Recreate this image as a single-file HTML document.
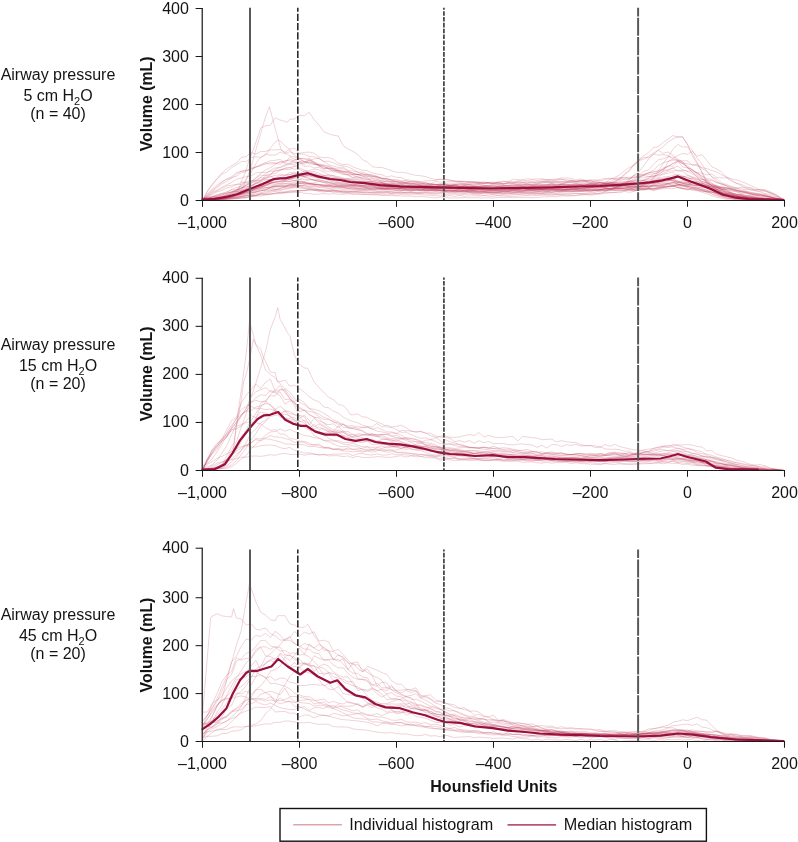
<!DOCTYPE html>
<html><head><meta charset="utf-8"><title>Figure</title>
<style>
html,body{margin:0;padding:0;background:#fff}
svg{display:block}
text{font-family:"Liberation Sans",sans-serif;font-size:16px;fill:#151314}
.b{font-weight:bold}
.ax{fill:none;stroke:#1a1a1a;stroke-width:1.05}
.ay{fill:none;stroke:#2e2e2e;stroke-width:1.35}
.v{stroke:#5a5a5a;stroke-width:2}
.v2{stroke:#2b2b2b;stroke-width:1.6}
.v3{stroke:#4a4a4a;stroke-width:1.8}
.ind polyline{fill:none;stroke:#b8294a;stroke-width:0.5;stroke-opacity:0.42;stroke-linejoin:round}
.med{fill:none;stroke:#990f40;stroke-width:2.2;stroke-linejoin:round;stroke-linecap:round}
</style></head><body>
<svg width="798" height="842" viewBox="0 0 798 842">
<rect width="798" height="842" fill="#fff"/>
<g class="ind"><polyline points="202.5,200.3 207.3,198.1 212.2,196.3 217.1,194.7 221.9,193.4 226.8,191.8 231.6,190.1 236.4,189.7 241.3,189.0 246.2,186.7 251.0,186.3 255.8,185.7 260.7,185.9 265.6,184.7 270.4,183.9 275.2,184.4 280.1,183.2 284.9,183.7 289.8,182.9 294.6,183.4 299.5,183.2 304.4,183.8 309.2,183.8 314.1,184.0 318.9,184.9 323.8,184.5 328.6,184.8 333.4,185.0 338.3,185.8 343.1,186.7 348.0,186.5 352.9,186.3 357.7,187.2 362.5,186.7 367.4,187.4 372.2,187.3 377.1,188.0 381.9,188.4 386.8,188.5 391.6,188.6 396.5,188.9 401.4,188.7 406.2,188.9 411.0,189.7 415.9,189.8 420.8,189.4 425.6,189.8 430.4,190.2 435.3,190.5 440.1,189.7 445.0,190.3 449.9,190.1 454.7,190.6 459.6,190.0 464.4,190.4 469.2,190.7 474.1,190.3 478.9,189.5 483.8,190.0 488.6,189.8 493.5,190.5 498.3,190.3 503.2,190.0 508.1,189.9 512.9,189.8 517.8,189.7 522.6,189.1 527.5,189.6 532.3,189.8 537.1,189.4 542.0,188.6 546.8,189.7 551.7,189.9 556.5,190.0 561.4,190.4 566.2,189.8 571.1,190.1 576.0,190.1 580.8,190.2 585.6,189.9 590.5,189.7 595.3,189.7 600.2,189.9 605.0,189.0 609.9,188.3 614.8,188.5 619.6,188.2 624.5,188.1 629.3,186.8 634.1,186.7 639.0,186.1 643.8,185.4 648.7,182.7 653.5,183.7 658.4,182.4 663.2,180.4 668.1,180.0 673.0,181.0 677.8,184.1 682.6,185.6 687.5,186.8 692.3,184.1 697.2,185.6 702.0,185.9 706.9,188.1 711.8,189.3 716.6,189.6 721.4,190.8 726.3,192.2 731.1,193.2 736.0,194.3 740.9,194.8 745.7,196.0 750.5,196.0 755.4,196.9 760.2,197.3 765.1,198.0 769.9,198.7 774.8,199.4 779.6,199.8 784.5,200.5"/>
<polyline points="202.5,200.4 207.3,200.3 212.2,200.1 217.1,198.8 221.9,198.8 226.8,198.6 231.6,197.8 236.4,194.7 241.3,190.7 246.2,179.7 251.0,167.8 255.8,149.9 260.7,133.4 265.6,116.6 269.4,106.8 275.2,128.4 281.1,149.7 284.9,152.8 289.8,155.8 294.6,157.2 299.5,158.5 304.4,161.6 309.2,163.8 314.1,164.4 318.9,165.3 323.8,168.6 328.6,168.4 333.4,169.0 338.3,170.9 343.1,172.3 348.0,172.0 352.9,172.6 357.7,174.7 362.5,173.8 367.4,174.7 372.2,176.8 377.1,176.1 381.9,178.6 386.8,178.6 391.6,180.0 396.5,180.2 401.4,181.5 406.2,181.0 411.0,181.6 415.9,182.1 420.8,183.2 425.6,182.8 430.4,183.9 435.3,184.0 440.1,184.9 445.0,184.9 449.9,185.3 454.7,185.2 459.6,186.3 464.4,186.0 469.2,186.1 474.1,186.5 478.9,186.8 483.8,186.8 488.6,187.3 493.5,187.4 498.3,186.8 503.2,186.9 508.1,186.6 512.9,187.1 517.8,186.5 522.6,186.6 527.5,187.1 532.3,186.8 537.1,186.5 542.0,186.4 546.8,186.5 551.7,185.3 556.5,186.4 561.4,185.0 566.2,185.7 571.1,185.2 576.0,185.6 580.8,185.1 585.6,184.7 590.5,184.3 595.3,183.6 600.2,183.6 605.0,183.8 609.9,183.2 614.8,182.8 619.6,182.8 624.5,182.9 629.3,181.5 634.1,182.2 639.0,181.0 643.8,180.4 648.7,179.8 653.5,178.7 658.4,178.2 663.2,177.0 668.1,176.6 673.0,175.5 677.8,174.3 682.6,176.3 687.5,177.3 692.3,179.8 697.2,181.7 702.0,183.7 706.9,185.0 711.8,187.2 716.6,189.0 721.4,190.4 726.3,192.5 731.1,194.1 736.0,195.8 740.9,196.2 745.7,196.7 750.5,197.0 755.4,197.3 760.2,198.3 765.1,199.0 769.9,199.1 774.8,199.9 779.6,200.2 784.5,200.5"/>
<polyline points="202.5,200.5 207.3,199.9 212.2,199.6 217.1,199.1 221.9,198.4 226.8,197.9 231.6,196.6 236.4,194.7 241.3,182.2 246.2,170.1 248.6,161.3 251.0,155.5 255.8,142.7 260.7,127.9 265.6,125.8 270.4,125.2 275.2,117.8 280.1,120.0 284.9,121.5 287.4,122.2 289.8,119.2 294.6,119.0 299.5,115.5 304.4,115.7 309.2,112.3 314.1,119.7 318.9,125.0 323.8,131.6 328.6,133.8 333.4,135.3 338.3,136.0 343.1,145.5 348.0,149.0 352.9,151.3 357.7,154.3 362.5,159.6 367.4,162.1 372.2,166.7 377.1,167.4 381.9,167.5 386.8,168.9 391.6,170.8 396.5,172.3 401.4,172.3 406.2,172.9 411.0,174.3 415.9,175.3 420.8,175.8 425.6,176.6 430.4,178.2 435.3,179.6 440.1,179.3 445.0,179.7 449.9,180.4 454.7,180.8 459.6,181.6 464.4,181.5 469.2,182.1 474.1,182.5 478.9,183.0 483.8,183.0 488.6,182.3 493.5,183.7 498.3,183.0 503.2,183.4 508.1,182.9 512.9,182.7 517.8,182.8 522.6,182.5 527.5,182.6 532.3,182.6 537.1,182.0 542.0,181.9 546.8,181.5 551.7,182.0 556.5,181.5 561.4,181.6 566.2,181.9 571.1,180.8 576.0,181.0 580.8,180.4 585.6,180.3 590.5,180.6 595.3,180.8 600.2,179.5 605.0,178.4 609.9,179.0 614.8,178.4 619.6,177.5 624.5,177.9 629.3,177.4 634.1,177.3 639.0,176.2 643.8,175.3 648.7,174.4 653.5,173.8 658.4,172.3 663.2,170.0 668.1,169.8 673.0,168.1 677.8,166.1 682.6,169.7 687.5,171.5 692.3,173.9 697.2,176.7 702.0,179.3 706.9,180.9 711.8,183.7 716.6,185.9 721.4,187.8 726.3,189.8 731.1,192.6 736.0,194.3 740.9,194.6 745.7,196.1 750.5,196.4 755.4,197.3 760.2,197.6 765.1,198.3 769.9,198.8 774.8,199.1 779.6,199.7 784.5,200.5"/>
<polyline points="202.5,199.4 207.3,199.3 212.2,199.1 217.1,198.2 221.9,198.1 226.8,197.2 231.6,196.4 236.4,195.7 241.3,194.5 246.2,194.1 251.0,192.6 255.8,192.5 260.7,191.0 265.6,190.0 270.4,189.8 275.2,189.5 280.1,189.7 284.9,188.5 289.8,187.7 294.6,187.0 299.5,186.8 304.4,188.4 309.2,189.4 314.1,189.9 318.9,189.8 323.8,191.0 328.6,191.0 333.4,191.2 338.3,192.5 343.1,193.1 348.0,192.9 352.9,193.8 357.7,194.1 362.5,194.1 367.4,194.5 372.2,194.9 377.1,195.0 381.9,195.5 386.8,195.4 391.6,195.5 396.5,195.9 401.4,196.0 406.2,196.2 411.0,196.1 415.9,196.7 420.8,196.6 425.6,196.9 430.4,197.3 435.3,197.9 440.1,197.2 445.0,197.1 449.9,198.0 454.7,197.9 459.6,197.8 464.4,197.6 469.2,197.9 474.1,197.6 478.9,198.0 483.8,197.9 488.6,197.8 493.5,198.1 498.3,197.4 503.2,197.6 508.1,197.3 512.9,197.8 517.8,197.4 522.6,197.7 527.5,197.4 532.3,197.8 537.1,197.5 542.0,196.9 546.8,196.9 551.7,196.6 556.5,196.7 561.4,195.9 566.2,196.1 571.1,195.8 576.0,195.7 580.8,195.2 585.6,194.7 590.5,194.5 595.3,193.8 600.2,193.1 605.0,191.6 609.9,190.3 614.8,188.5 619.6,185.0 624.5,183.4 629.3,179.9 634.1,175.0 639.0,172.0 643.8,165.5 648.7,158.7 653.5,154.6 658.4,150.0 663.2,146.7 668.1,141.9 673.0,139.0 677.8,136.4 682.6,136.7 687.5,144.4 692.3,155.6 697.2,164.2 702.0,172.0 706.9,180.8 711.8,185.7 716.6,189.7 721.4,192.6 726.3,194.7 731.1,196.5 736.0,197.1 740.9,198.2 745.7,198.5 750.5,198.3 755.4,199.2 760.2,199.0 765.1,199.6 769.9,199.6 774.8,200.0 779.6,200.2 784.5,200.5"/>
<polyline points="202.5,200.2 207.3,198.7 212.2,196.9 217.1,195.8 221.9,194.0 226.8,193.2 231.6,192.0 236.4,191.4 241.3,190.3 246.2,189.4 251.0,188.9 255.8,188.3 260.7,186.6 265.6,187.6 270.4,187.1 275.2,186.2 280.1,186.0 284.9,185.4 289.8,185.8 294.6,185.2 299.5,185.8 304.4,185.9 309.2,186.8 314.1,186.6 318.9,187.4 323.8,187.2 328.6,188.2 333.4,188.5 338.3,188.3 343.1,189.0 348.0,188.5 352.9,189.6 357.7,189.4 362.5,189.5 367.4,188.9 372.2,190.0 377.1,189.5 381.9,189.1 386.8,189.2 391.6,188.1 396.5,188.3 401.4,188.8 406.2,188.1 411.0,187.0 415.9,187.2 420.8,186.7 425.6,186.5 430.4,186.7 435.3,186.6 440.1,185.1 445.0,184.8 449.9,184.8 454.7,185.0 459.6,183.9 464.4,183.7 469.2,183.5 474.1,183.4 478.9,182.8 483.8,183.6 488.6,183.0 493.5,182.7 498.3,183.0 503.2,183.7 508.1,182.6 512.9,183.4 517.8,181.0 522.6,181.9 527.5,181.1 532.3,182.0 537.1,181.8 542.0,181.0 546.8,180.6 551.7,180.8 556.5,180.2 561.4,179.6 566.2,179.6 571.1,180.3 576.0,181.4 580.8,181.2 585.6,181.7 590.5,182.0 595.3,182.1 600.2,182.7 605.0,183.9 609.9,184.3 614.8,184.6 619.6,185.5 624.5,185.9 629.3,185.6 634.1,186.1 639.0,186.4 643.8,186.4 648.7,185.5 653.5,185.2 658.4,183.9 663.2,183.7 668.1,181.2 673.0,179.9 677.8,181.8 682.6,180.4 687.5,182.7 692.3,182.5 697.2,184.0 702.0,185.3 706.9,185.7 711.8,187.8 716.6,189.5 721.4,190.7 726.3,193.0 731.1,194.2 736.0,195.8 740.9,196.6 745.7,197.6 750.5,198.0 755.4,198.5 760.2,199.0 765.1,199.2 769.9,199.2 774.8,199.9 779.6,200.1 784.5,200.5"/>
<polyline points="202.5,200.5 207.3,199.7 212.2,199.0 217.1,197.9 221.9,197.5 226.8,197.2 231.6,193.0 236.4,189.7 241.3,185.6 246.2,179.2 251.0,172.8 255.8,163.7 260.7,157.4 265.6,155.2 270.4,148.1 275.2,142.1 277.7,140.2 280.1,141.0 284.9,145.6 289.8,149.8 294.6,155.7 299.5,158.3 304.4,159.0 309.2,160.6 314.1,164.0 318.9,165.0 323.8,166.7 328.6,169.1 333.4,170.4 338.3,170.2 343.1,171.9 348.0,172.4 352.9,174.7 357.7,174.5 362.5,175.6 367.4,174.9 372.2,176.4 377.1,177.5 381.9,177.9 386.8,178.7 391.6,179.6 396.5,179.9 401.4,180.8 406.2,180.5 411.0,182.4 415.9,182.0 420.8,183.3 425.6,184.3 430.4,184.2 435.3,185.0 440.1,186.1 445.0,185.9 449.9,185.9 454.7,186.7 459.6,186.6 464.4,187.2 469.2,187.2 474.1,187.1 478.9,187.4 483.8,187.6 488.6,188.3 493.5,188.3 498.3,188.4 503.2,188.2 508.1,188.2 512.9,187.8 517.8,187.8 522.6,186.8 527.5,187.7 532.3,187.9 537.1,187.6 542.0,187.5 546.8,187.7 551.7,187.4 556.5,187.2 561.4,186.8 566.2,186.6 571.1,186.4 576.0,186.9 580.8,186.3 585.6,186.1 590.5,185.7 595.3,185.4 600.2,186.2 605.0,185.5 609.9,185.7 614.8,184.7 619.6,184.3 624.5,183.2 629.3,183.9 634.1,182.6 639.0,182.7 643.8,182.4 648.7,181.5 653.5,180.1 658.4,179.7 663.2,179.1 668.1,178.2 673.0,178.0 677.8,176.7 682.6,178.5 687.5,179.9 692.3,182.4 697.2,184.5 702.0,186.1 706.9,187.7 711.8,188.8 716.6,190.5 721.4,192.4 726.3,194.2 731.1,195.0 736.0,196.6 740.9,197.1 745.7,197.3 750.5,197.5 755.4,198.5 760.2,198.3 765.1,199.2 769.9,199.2 774.8,199.4 779.6,200.5 784.5,200.5"/>
<polyline points="202.5,200.2 207.3,199.6 212.2,199.5 217.1,199.2 221.9,198.6 226.8,198.0 231.6,196.4 236.4,196.0 241.3,194.3 246.2,192.7 251.0,191.0 255.8,189.0 260.7,187.1 265.6,185.7 270.4,183.5 275.2,182.1 280.1,181.5 284.9,181.7 289.8,181.4 294.6,180.6 299.5,179.2 304.4,177.5 309.2,177.9 314.1,180.4 318.9,180.9 323.8,182.0 328.6,182.5 333.4,183.6 338.3,184.2 343.1,184.5 348.0,184.7 352.9,185.6 357.7,186.4 362.5,186.2 367.4,186.6 372.2,185.5 377.1,186.7 381.9,187.5 386.8,186.3 391.6,186.7 396.5,186.7 401.4,186.6 406.2,186.6 411.0,186.4 415.9,186.9 420.8,185.9 425.6,186.1 430.4,186.3 435.3,186.4 440.1,184.9 445.0,184.9 449.9,185.8 454.7,184.3 459.6,184.5 464.4,184.9 469.2,184.9 474.1,184.7 478.9,184.0 483.8,184.9 488.6,185.9 493.5,183.8 498.3,184.4 503.2,185.6 508.1,185.0 512.9,185.3 517.8,184.7 522.6,185.0 527.5,184.7 532.3,185.2 537.1,185.7 542.0,184.5 546.8,184.9 551.7,184.3 556.5,184.7 561.4,184.6 566.2,184.8 571.1,185.0 576.0,183.8 580.8,184.5 585.6,185.4 590.5,185.0 595.3,184.9 600.2,185.8 605.0,184.6 609.9,185.7 614.8,186.9 619.6,185.9 624.5,185.9 629.3,186.2 634.1,186.4 639.0,185.9 643.8,185.8 648.7,186.2 653.5,185.5 658.4,185.6 663.2,184.1 668.1,183.9 673.0,182.4 677.8,184.2 682.6,185.9 687.5,184.1 692.3,185.1 697.2,185.3 702.0,185.7 706.9,186.4 711.8,186.9 716.6,186.5 721.4,187.6 726.3,188.0 731.1,189.7 736.0,189.8 740.9,191.2 745.7,191.0 750.5,192.3 755.4,193.0 760.2,193.9 765.1,194.3 769.9,195.7 774.8,197.8 779.6,199.0 784.5,200.5"/>
<polyline points="202.5,199.7 207.3,199.8 212.2,199.8 217.1,199.8 221.9,199.8 226.8,199.2 231.6,198.8 236.4,198.8 241.3,197.9 246.2,197.4 251.0,195.9 255.8,195.1 260.7,193.5 265.6,192.6 270.4,191.0 275.2,190.7 280.1,188.3 284.9,186.9 289.8,186.7 294.6,186.5 299.5,185.6 304.4,184.7 309.2,184.0 314.1,182.7 318.9,181.5 323.8,182.5 328.6,184.3 333.4,184.4 338.3,184.6 343.1,185.5 348.0,186.6 352.9,185.7 357.7,186.2 362.5,187.0 367.4,188.2 372.2,188.3 377.1,188.1 381.9,188.6 386.8,189.4 391.6,189.8 396.5,190.1 401.4,190.1 406.2,190.0 411.0,190.3 415.9,189.7 420.8,190.0 425.6,189.8 430.4,189.5 435.3,189.7 440.1,189.3 445.0,190.7 449.9,189.9 454.7,190.0 459.6,189.4 464.4,191.0 469.2,190.2 474.1,190.3 478.9,190.1 483.8,191.3 488.6,190.9 493.5,190.4 498.3,190.4 503.2,189.2 508.1,190.2 512.9,189.2 517.8,189.4 522.6,190.3 527.5,189.5 532.3,190.2 537.1,189.3 542.0,189.8 546.8,189.9 551.7,189.1 556.5,191.0 561.4,191.3 566.2,189.7 571.1,189.5 576.0,189.6 580.8,189.1 585.6,188.2 590.5,186.4 595.3,185.8 600.2,185.2 605.0,183.3 609.9,179.2 614.8,177.6 619.6,174.8 624.5,170.7 629.3,167.4 634.1,165.6 639.0,159.5 643.8,155.6 648.7,152.3 653.5,147.7 658.4,146.5 663.2,142.5 668.1,139.0 673.0,135.4 677.8,137.5 682.6,137.2 687.5,144.5 692.3,150.3 697.2,158.1 702.0,164.4 706.9,171.2 711.8,176.7 716.6,181.0 721.4,184.6 726.3,185.6 731.1,187.7 736.0,189.6 740.9,190.9 745.7,191.8 750.5,193.4 755.4,195.0 760.2,195.0 765.1,196.0 769.9,197.1 774.8,198.4 779.6,199.5 784.5,200.5"/>
<polyline points="202.5,200.2 207.3,196.8 212.2,193.3 217.1,190.9 221.9,188.5 226.8,185.9 231.6,185.2 236.4,184.5 241.3,182.4 246.2,182.7 251.0,181.6 255.8,181.1 260.7,180.3 265.6,179.2 270.4,179.6 275.2,179.7 280.1,178.8 284.9,178.6 289.8,178.4 294.6,178.6 299.5,179.5 304.4,179.7 309.2,179.2 314.1,180.5 318.9,180.1 323.8,180.9 328.6,182.0 333.4,182.1 338.3,182.9 343.1,183.1 348.0,183.8 352.9,184.5 357.7,185.2 362.5,185.2 367.4,185.1 372.2,185.7 377.1,186.1 381.9,186.9 386.8,187.3 391.6,187.7 396.5,186.9 401.4,187.5 406.2,188.1 411.0,188.7 415.9,188.6 420.8,188.2 425.6,188.8 430.4,188.6 435.3,188.2 440.1,188.8 445.0,188.0 449.9,188.0 454.7,188.1 459.6,188.2 464.4,186.9 469.2,187.4 474.1,187.3 478.9,186.7 483.8,187.6 488.6,187.8 493.5,187.9 498.3,187.5 503.2,187.4 508.1,188.0 512.9,187.7 517.8,188.5 522.6,187.8 527.5,187.8 532.3,188.0 537.1,187.4 542.0,187.6 546.8,187.8 551.7,187.8 556.5,186.7 561.4,187.3 566.2,186.3 571.1,186.2 576.0,185.3 580.8,185.3 585.6,185.0 590.5,183.3 595.3,184.3 600.2,184.0 605.0,182.9 609.9,183.2 614.8,182.6 619.6,183.8 624.5,184.3 629.3,181.8 634.1,183.2 639.0,183.0 643.8,183.2 648.7,182.5 653.5,182.6 658.4,181.1 663.2,180.4 668.1,178.5 673.0,177.5 677.8,175.9 682.6,176.7 687.5,179.0 692.3,178.2 697.2,181.0 702.0,182.1 706.9,182.8 711.8,185.7 716.6,187.3 721.4,189.2 726.3,190.6 731.1,192.8 736.0,194.1 740.9,195.5 745.7,197.0 750.5,197.4 755.4,197.7 760.2,198.6 765.1,199.1 769.9,199.1 774.8,199.4 779.6,200.0 784.5,200.5"/>
<polyline points="202.5,199.7 207.3,199.6 212.2,199.7 217.1,198.7 221.9,199.0 226.8,198.3 231.6,197.2 236.4,195.7 241.3,194.3 246.2,192.8 251.0,191.3 255.8,188.7 260.7,187.8 265.6,184.6 270.4,182.2 275.2,179.0 280.1,177.9 284.9,175.8 289.8,174.9 294.6,172.2 299.5,173.6 304.4,170.9 309.2,170.6 314.1,169.0 318.9,169.8 323.8,172.3 328.6,174.7 333.4,175.9 338.3,177.9 343.1,178.9 348.0,180.9 352.9,181.5 357.7,182.5 362.5,183.3 367.4,183.7 372.2,184.5 377.1,184.8 381.9,185.2 386.8,187.2 391.6,186.4 396.5,187.0 401.4,187.7 406.2,188.2 411.0,187.9 415.9,187.5 420.8,187.8 425.6,188.0 430.4,187.8 435.3,188.0 440.1,187.0 445.0,187.1 449.9,187.8 454.7,187.3 459.6,186.9 464.4,187.1 469.2,187.0 474.1,186.5 478.9,186.9 483.8,187.2 488.6,187.0 493.5,187.3 498.3,187.3 503.2,188.2 508.1,187.4 512.9,188.0 517.8,188.1 522.6,188.2 527.5,188.3 532.3,188.7 537.1,187.9 542.0,188.9 546.8,188.3 551.7,187.7 556.5,188.5 561.4,188.6 566.2,188.6 571.1,187.8 576.0,188.1 580.8,188.2 585.6,187.3 590.5,187.4 595.3,188.1 600.2,186.3 605.0,186.2 609.9,185.4 614.8,185.1 619.6,185.9 624.5,185.1 629.3,185.2 634.1,184.2 639.0,183.8 643.8,183.5 648.7,182.8 653.5,183.1 658.4,182.8 663.2,180.0 668.1,179.4 673.0,177.9 677.8,176.7 682.6,177.8 687.5,179.4 692.3,181.8 697.2,181.7 702.0,183.2 706.9,184.3 711.8,187.4 716.6,187.8 721.4,189.0 726.3,191.9 731.1,193.2 736.0,194.9 740.9,195.5 745.7,196.8 750.5,198.0 755.4,198.6 760.2,198.8 765.1,199.0 769.9,199.2 774.8,199.7 779.6,200.2 784.5,200.5"/>
<polyline points="202.5,199.8 207.3,199.8 212.2,200.1 217.1,199.8 221.9,199.4 226.8,199.0 231.6,198.3 236.4,197.6 241.3,196.5 246.2,195.6 251.0,194.6 255.8,192.2 260.7,190.4 265.6,190.2 270.4,187.6 275.2,185.0 280.1,184.8 284.9,183.6 289.8,183.7 294.6,182.4 299.5,182.2 304.4,181.5 309.2,179.9 314.1,179.4 318.9,179.7 323.8,180.9 328.6,182.1 333.4,183.5 338.3,183.4 343.1,184.8 348.0,185.1 352.9,184.0 357.7,184.9 362.5,186.4 367.4,186.1 372.2,185.8 377.1,187.1 381.9,186.4 386.8,187.0 391.6,187.0 396.5,186.2 401.4,187.7 406.2,186.6 411.0,186.7 415.9,186.4 420.8,185.1 425.6,185.5 430.4,184.4 435.3,184.8 440.1,183.8 445.0,183.7 449.9,183.0 454.7,183.3 459.6,182.3 464.4,183.3 469.2,182.1 474.1,182.6 478.9,182.9 483.8,181.9 488.6,182.8 493.5,183.6 498.3,182.4 503.2,184.1 508.1,182.9 512.9,183.2 517.8,183.9 522.6,183.0 527.5,183.2 532.3,181.9 537.1,183.7 542.0,181.4 546.8,182.4 551.7,183.1 556.5,183.1 561.4,182.8 566.2,183.0 571.1,182.4 576.0,183.5 580.8,183.5 585.6,183.6 590.5,184.1 595.3,184.6 600.2,184.9 605.0,183.5 609.9,184.1 614.8,185.1 619.6,184.8 624.5,184.1 629.3,184.4 634.1,184.6 639.0,184.8 643.8,184.5 648.7,182.9 653.5,180.9 658.4,182.0 663.2,181.6 668.1,178.9 673.0,178.6 677.8,181.4 682.6,182.0 687.5,182.4 692.3,184.9 697.2,187.1 702.0,188.1 706.9,190.1 711.8,191.4 716.6,194.0 721.4,195.6 726.3,196.5 731.1,197.2 736.0,198.4 740.9,198.8 745.7,199.2 750.5,198.7 755.4,199.3 760.2,199.5 765.1,199.4 769.9,199.3 774.8,199.8 779.6,200.4 784.5,200.5"/>
<polyline points="202.5,200.2 207.3,199.9 212.2,199.9 217.1,199.6 221.9,199.0 226.8,197.9 231.6,197.3 236.4,196.9 241.3,195.8 246.2,194.8 251.0,192.8 255.8,191.6 260.7,190.7 265.6,190.0 270.4,187.6 275.2,186.8 280.1,186.1 284.9,186.4 289.8,185.4 294.6,184.5 299.5,182.3 304.4,182.8 309.2,183.5 314.1,184.5 318.9,185.0 323.8,186.6 328.6,186.9 333.4,187.3 338.3,187.2 343.1,187.8 348.0,188.2 352.9,188.2 357.7,188.6 362.5,188.7 367.4,189.3 372.2,188.3 377.1,188.1 381.9,189.1 386.8,188.3 391.6,188.4 396.5,188.5 401.4,187.9 406.2,187.6 411.0,188.0 415.9,187.8 420.8,187.3 425.6,188.2 430.4,188.2 435.3,189.7 440.1,188.3 445.0,189.1 449.9,188.9 454.7,189.1 459.6,190.0 464.4,190.3 469.2,190.3 474.1,190.1 478.9,191.0 483.8,190.1 488.6,190.7 493.5,191.2 498.3,190.8 503.2,190.8 508.1,190.6 512.9,190.4 517.8,191.1 522.6,190.9 527.5,190.5 532.3,190.7 537.1,190.4 542.0,189.6 546.8,190.2 551.7,189.5 556.5,189.4 561.4,190.0 566.2,189.0 571.1,188.4 576.0,189.0 580.8,188.6 585.6,188.0 590.5,188.1 595.3,186.6 600.2,185.8 605.0,184.3 609.9,183.2 614.8,181.0 619.6,179.0 624.5,173.9 629.3,170.3 634.1,164.9 639.0,160.6 643.8,159.3 648.7,156.3 653.5,152.9 658.4,150.2 663.2,153.3 668.1,152.0 673.0,155.3 677.8,159.0 682.6,161.9 687.5,167.7 692.3,172.1 697.2,175.2 702.0,178.8 706.9,182.4 711.8,185.2 716.6,187.7 721.4,189.8 726.3,191.4 731.1,192.8 736.0,194.0 740.9,194.6 745.7,195.3 750.5,195.7 755.4,196.0 760.2,197.1 765.1,197.0 769.9,198.0 774.8,199.0 779.6,199.8 784.5,200.5"/>
<polyline points="202.5,200.5 207.3,197.0 212.2,194.5 217.1,191.8 221.9,190.4 226.8,187.8 231.6,186.8 236.4,184.4 241.3,184.7 246.2,181.8 251.0,180.5 255.8,180.4 260.7,180.0 265.6,177.4 270.4,176.9 275.2,175.3 280.1,174.7 284.9,174.7 289.8,174.5 294.6,174.1 299.5,174.9 304.4,176.4 309.2,175.9 314.1,176.7 318.9,177.6 323.8,178.6 328.6,179.6 333.4,180.5 338.3,181.8 343.1,182.7 348.0,181.8 352.9,183.8 357.7,184.3 362.5,185.3 367.4,185.2 372.2,186.6 377.1,185.6 381.9,188.1 386.8,188.5 391.6,188.0 396.5,188.5 401.4,190.1 406.2,189.7 411.0,190.1 415.9,190.5 420.8,190.0 425.6,190.4 430.4,190.3 435.3,190.6 440.1,190.5 445.0,191.4 449.9,189.9 454.7,190.9 459.6,190.9 464.4,190.7 469.2,191.2 474.1,190.7 478.9,191.8 483.8,191.5 488.6,191.5 493.5,191.9 498.3,192.0 503.2,191.5 508.1,190.9 512.9,191.3 517.8,191.0 522.6,191.1 527.5,190.4 532.3,190.1 537.1,190.2 542.0,190.8 546.8,190.4 551.7,190.1 556.5,190.0 561.4,190.7 566.2,190.8 571.1,190.2 576.0,190.6 580.8,191.0 585.6,190.7 590.5,190.1 595.3,190.3 600.2,189.7 605.0,189.8 609.9,189.5 614.8,189.3 619.6,189.2 624.5,187.6 629.3,187.4 634.1,188.0 639.0,186.3 643.8,186.7 648.7,186.6 653.5,185.2 658.4,186.2 663.2,185.7 668.1,183.1 673.0,182.6 677.8,180.6 682.6,183.1 687.5,184.3 692.3,186.4 697.2,188.1 702.0,190.2 706.9,191.2 711.8,194.3 716.6,195.8 721.4,197.0 726.3,198.4 731.1,198.7 736.0,199.4 740.9,199.5 745.7,199.1 750.5,199.5 755.4,199.5 760.2,199.7 765.1,199.8 769.9,200.3 774.8,200.5 779.6,200.5 784.5,200.5"/>
<polyline points="202.5,199.1 207.3,199.0 212.2,197.8 217.1,197.4 221.9,196.8 226.8,194.7 231.6,192.6 236.4,190.7 241.3,188.4 246.2,185.2 251.0,181.6 255.8,178.4 260.7,173.2 265.6,170.1 270.4,167.6 275.2,164.6 280.1,161.5 284.9,163.3 289.8,163.4 294.6,159.9 299.5,158.5 304.4,158.6 309.2,159.0 314.1,162.3 318.9,165.3 323.8,167.8 328.6,168.4 333.4,172.2 338.3,171.5 343.1,173.7 348.0,175.3 352.9,177.9 357.7,176.1 362.5,178.7 367.4,179.6 372.2,179.7 377.1,181.9 381.9,182.7 386.8,184.3 391.6,184.3 396.5,185.0 401.4,185.6 406.2,186.3 411.0,186.6 415.9,186.9 420.8,187.5 425.6,188.2 430.4,187.9 435.3,188.6 440.1,188.5 445.0,189.0 449.9,188.1 454.7,189.1 459.6,189.2 464.4,189.5 469.2,189.7 474.1,190.1 478.9,190.0 483.8,190.2 488.6,189.8 493.5,190.1 498.3,189.8 503.2,190.5 508.1,189.6 512.9,189.9 517.8,189.6 522.6,189.1 527.5,189.4 532.3,188.9 537.1,189.3 542.0,189.2 546.8,188.4 551.7,189.4 556.5,189.6 561.4,189.1 566.2,189.6 571.1,188.9 576.0,188.9 580.8,188.7 585.6,188.9 590.5,188.3 595.3,186.9 600.2,186.7 605.0,186.8 609.9,184.6 614.8,184.2 619.6,185.2 624.5,182.4 629.3,181.2 634.1,180.2 639.0,178.0 643.8,177.9 648.7,176.6 653.5,176.4 658.4,174.2 663.2,171.6 668.1,170.1 673.0,167.9 677.8,171.3 682.6,170.2 687.5,171.0 692.3,171.0 697.2,172.7 702.0,173.2 706.9,174.9 711.8,173.9 716.6,177.5 721.4,177.8 726.3,177.9 731.1,181.0 736.0,183.0 740.9,184.2 745.7,186.4 750.5,188.4 755.4,190.9 760.2,191.9 765.1,193.5 769.9,194.5 774.8,196.5 779.6,198.5 784.5,200.5"/>
<polyline points="202.5,200.3 207.3,200.1 212.2,200.2 217.1,200.0 221.9,199.5 226.8,199.1 231.6,198.4 236.4,198.2 241.3,196.9 246.2,196.3 251.0,195.6 255.8,195.5 260.7,193.8 265.6,193.7 270.4,192.3 275.2,191.3 280.1,192.5 284.9,191.9 289.8,190.7 294.6,190.6 299.5,190.3 304.4,190.5 309.2,190.2 314.1,190.2 318.9,190.7 323.8,190.5 328.6,191.1 333.4,191.0 338.3,191.2 343.1,191.0 348.0,191.3 352.9,191.4 357.7,191.0 362.5,191.0 367.4,190.8 372.2,191.2 377.1,191.6 381.9,190.8 386.8,191.1 391.6,191.2 396.5,190.6 401.4,191.0 406.2,189.8 411.0,191.2 415.9,189.6 420.8,190.8 425.6,190.3 430.4,190.6 435.3,190.4 440.1,190.3 445.0,190.4 449.9,190.9 454.7,190.7 459.6,189.9 464.4,189.5 469.2,189.4 474.1,190.3 478.9,189.6 483.8,189.0 488.6,188.2 493.5,188.9 498.3,188.3 503.2,188.4 508.1,187.6 512.9,187.3 517.8,188.3 522.6,188.8 527.5,188.6 532.3,189.4 537.1,190.1 542.0,189.6 546.8,190.0 551.7,190.2 556.5,189.4 561.4,189.9 566.2,190.5 571.1,189.4 576.0,188.9 580.8,187.4 585.6,188.1 590.5,187.5 595.3,187.3 600.2,187.7 605.0,187.4 609.9,187.0 614.8,187.2 619.6,186.4 624.5,185.3 629.3,187.6 634.1,187.4 639.0,186.9 643.8,186.8 648.7,187.1 653.5,186.0 658.4,184.9 663.2,185.2 668.1,184.1 673.0,184.4 677.8,184.3 682.6,184.9 687.5,185.8 692.3,186.0 697.2,185.4 702.0,185.8 706.9,186.1 711.8,187.2 716.6,187.2 721.4,188.2 726.3,188.9 731.1,188.7 736.0,190.3 740.9,191.8 745.7,192.5 750.5,193.8 755.4,194.9 760.2,194.9 765.1,196.1 769.9,196.7 774.8,198.3 779.6,199.2 784.5,200.5"/>
<polyline points="202.5,200.2 207.3,200.5 212.2,200.0 217.1,200.0 221.9,199.1 226.8,199.2 231.6,198.9 236.4,198.4 241.3,197.7 246.2,197.5 251.0,196.7 255.8,195.9 260.7,194.8 265.6,194.5 270.4,194.5 275.2,193.0 280.1,192.0 284.9,192.2 289.8,191.4 294.6,191.2 299.5,191.2 304.4,190.7 309.2,189.9 314.1,190.3 318.9,191.3 323.8,192.0 328.6,191.0 333.4,192.4 338.3,191.7 343.1,192.2 348.0,192.5 352.9,192.1 357.7,192.4 362.5,192.7 367.4,193.1 372.2,192.8 377.1,193.3 381.9,193.5 386.8,193.1 391.6,193.5 396.5,192.7 401.4,192.7 406.2,193.1 411.0,192.2 415.9,193.0 420.8,192.4 425.6,192.6 430.4,193.0 435.3,193.0 440.1,192.8 445.0,192.0 449.9,192.8 454.7,192.7 459.6,193.0 464.4,193.3 469.2,192.7 474.1,193.5 478.9,193.8 483.8,193.0 488.6,192.8 493.5,193.6 498.3,193.2 503.2,193.5 508.1,193.8 512.9,193.3 517.8,192.8 522.6,193.4 527.5,193.6 532.3,193.7 537.1,193.6 542.0,193.3 546.8,193.9 551.7,193.1 556.5,193.7 561.4,193.9 566.2,193.3 571.1,193.3 576.0,193.1 580.8,193.9 585.6,194.0 590.5,193.2 595.3,193.5 600.2,193.4 605.0,192.4 609.9,192.5 614.8,192.4 619.6,192.8 624.5,191.4 629.3,192.3 634.1,191.3 639.0,188.8 643.8,187.7 648.7,184.4 653.5,178.2 658.4,171.1 663.2,163.3 668.1,157.1 673.0,149.1 677.8,144.4 682.6,147.0 687.5,146.9 692.3,153.6 697.2,162.1 702.0,172.8 706.9,183.3 711.8,189.7 716.6,193.8 721.4,196.0 726.3,197.7 731.1,198.5 736.0,199.0 740.9,199.4 745.7,199.9 750.5,200.2 755.4,200.3 760.2,199.6 765.1,199.7 769.9,200.4 774.8,200.3 779.6,200.3 784.5,200.5"/>
<polyline points="202.5,200.2 207.3,196.3 212.2,192.2 217.1,190.1 221.9,187.2 226.8,184.7 231.6,182.5 236.4,179.2 241.3,178.1 246.2,176.6 251.0,176.0 255.8,172.9 260.7,172.4 265.6,172.7 270.4,171.1 275.2,171.3 280.1,170.0 284.9,168.3 289.8,167.6 294.6,169.2 299.5,169.5 304.4,171.7 309.2,171.9 314.1,171.5 318.9,173.1 323.8,175.5 328.6,175.1 333.4,175.7 338.3,176.6 343.1,177.8 348.0,179.1 352.9,178.8 357.7,178.5 362.5,180.1 367.4,181.4 372.2,181.8 377.1,183.3 381.9,182.9 386.8,183.9 391.6,183.5 396.5,184.4 401.4,184.2 406.2,183.5 411.0,185.2 415.9,185.0 420.8,185.0 425.6,184.7 430.4,185.0 435.3,184.6 440.1,184.2 445.0,184.9 449.9,186.0 454.7,185.3 459.6,184.8 464.4,184.4 469.2,184.8 474.1,185.9 478.9,184.4 483.8,185.8 488.6,185.3 493.5,185.1 498.3,184.9 503.2,185.2 508.1,185.9 512.9,184.9 517.8,185.5 522.6,185.3 527.5,184.9 532.3,185.2 537.1,186.2 542.0,185.9 546.8,185.5 551.7,185.2 556.5,185.3 561.4,184.0 566.2,184.5 571.1,184.4 576.0,185.0 580.8,184.3 585.6,183.9 590.5,185.1 595.3,185.0 600.2,185.7 605.0,185.7 609.9,186.0 614.8,186.4 619.6,186.2 624.5,185.1 629.3,186.8 634.1,186.3 639.0,186.7 643.8,185.5 648.7,186.2 653.5,186.3 658.4,185.6 663.2,184.5 668.1,183.1 673.0,182.4 677.8,182.5 682.6,181.9 687.5,184.1 692.3,184.8 697.2,185.1 702.0,186.2 706.9,187.1 711.8,188.8 716.6,189.6 721.4,192.1 726.3,193.9 731.1,195.3 736.0,196.2 740.9,197.1 745.7,198.0 750.5,198.2 755.4,199.3 760.2,199.1 765.1,199.5 769.9,199.5 774.8,199.8 779.6,200.2 784.5,200.5"/>
<polyline points="202.5,199.4 207.3,199.4 212.2,198.7 217.1,198.4 221.9,198.1 226.8,197.2 231.6,196.2 236.4,194.5 241.3,194.2 246.2,192.9 251.0,191.4 255.8,190.6 260.7,188.4 265.6,187.7 270.4,187.3 275.2,187.1 280.1,187.0 284.9,187.2 289.8,184.9 294.6,185.5 299.5,185.8 304.4,185.3 309.2,186.0 314.1,185.6 318.9,187.0 323.8,186.8 328.6,186.4 333.4,187.2 338.3,185.9 343.1,186.8 348.0,185.2 352.9,185.4 357.7,185.5 362.5,185.7 367.4,184.8 372.2,184.9 377.1,184.6 381.9,184.7 386.8,184.6 391.6,183.5 396.5,183.7 401.4,182.0 406.2,182.7 411.0,181.8 415.9,180.9 420.8,181.8 425.6,180.8 430.4,180.7 435.3,180.4 440.1,179.2 445.0,179.1 449.9,179.9 454.7,181.5 459.6,181.4 464.4,181.3 469.2,182.1 474.1,182.0 478.9,181.9 483.8,182.5 488.6,182.5 493.5,182.0 498.3,182.8 503.2,181.1 508.1,182.0 512.9,179.3 517.8,179.7 522.6,179.7 527.5,178.7 532.3,179.3 537.1,178.9 542.0,178.8 546.8,179.7 551.7,179.8 556.5,179.9 561.4,178.9 566.2,180.9 571.1,180.8 576.0,181.3 580.8,180.8 585.6,180.3 590.5,182.4 595.3,181.6 600.2,182.6 605.0,182.7 609.9,182.4 614.8,183.0 619.6,181.7 624.5,182.0 629.3,182.6 634.1,180.7 639.0,181.1 643.8,180.4 648.7,182.0 653.5,180.8 658.4,180.6 663.2,180.1 668.1,178.6 673.0,180.3 677.8,176.9 682.6,178.5 687.5,180.2 692.3,182.4 697.2,185.1 702.0,186.2 706.9,187.7 711.8,189.0 716.6,190.7 721.4,192.3 726.3,194.0 731.1,195.5 736.0,195.7 740.9,197.0 745.7,198.0 750.5,198.5 755.4,198.8 760.2,199.4 765.1,198.9 769.9,199.1 774.8,199.8 779.6,200.2 784.5,200.5"/>
<polyline points="202.5,199.3 207.3,198.0 212.2,197.3 217.1,196.6 221.9,194.9 226.8,193.5 231.6,191.7 236.4,189.7 241.3,187.7 246.2,185.1 251.0,183.3 255.8,181.6 260.7,177.5 265.6,178.5 270.4,176.5 275.2,177.7 280.1,175.5 284.9,175.6 289.8,172.6 294.6,173.4 299.5,173.9 304.4,176.9 309.2,178.7 314.1,180.2 318.9,181.4 323.8,182.3 328.6,183.2 333.4,183.8 338.3,185.5 343.1,185.5 348.0,184.9 352.9,186.3 357.7,185.9 362.5,187.1 367.4,187.4 372.2,187.5 377.1,187.5 381.9,188.0 386.8,187.6 391.6,187.0 396.5,188.2 401.4,187.9 406.2,187.4 411.0,188.0 415.9,187.6 420.8,187.1 425.6,186.5 430.4,186.9 435.3,187.1 440.1,187.1 445.0,186.8 449.9,187.0 454.7,187.7 459.6,187.8 464.4,187.1 469.2,186.8 474.1,188.0 478.9,187.0 483.8,187.5 488.6,187.4 493.5,188.1 498.3,187.2 503.2,188.0 508.1,187.9 512.9,187.6 517.8,188.0 522.6,188.1 527.5,187.4 532.3,186.7 537.1,187.5 542.0,187.7 546.8,187.7 551.7,187.8 556.5,186.4 561.4,185.2 566.2,186.5 571.1,185.8 576.0,187.2 580.8,186.2 585.6,186.3 590.5,187.1 595.3,186.8 600.2,187.3 605.0,188.4 609.9,188.9 614.8,189.9 619.6,189.8 624.5,190.1 629.3,188.9 634.1,190.2 639.0,189.9 643.8,190.0 648.7,189.1 653.5,190.6 658.4,189.1 663.2,188.8 668.1,188.4 673.0,188.8 677.8,187.5 682.6,188.6 687.5,189.5 692.3,190.0 697.2,190.8 702.0,191.1 706.9,191.9 711.8,192.3 716.6,193.4 721.4,194.3 726.3,195.0 731.1,195.5 736.0,196.4 740.9,197.2 745.7,197.8 750.5,198.2 755.4,198.7 760.2,199.3 765.1,199.4 769.9,199.6 774.8,199.9 779.6,200.2 784.5,200.5"/>
<polyline points="202.5,198.4 207.3,197.9 212.2,197.1 217.1,196.0 221.9,195.2 226.8,193.1 231.6,192.0 236.4,190.2 241.3,187.9 246.2,187.1 251.0,185.1 255.8,183.0 260.7,183.3 265.6,182.5 270.4,181.8 275.2,182.6 280.1,181.2 284.9,180.5 289.8,179.2 294.6,180.7 299.5,181.5 304.4,181.9 309.2,183.8 314.1,184.5 318.9,184.7 323.8,185.5 328.6,185.4 333.4,186.2 338.3,187.1 343.1,187.2 348.0,188.2 352.9,188.4 357.7,189.0 362.5,190.1 367.4,190.4 372.2,189.9 377.1,191.0 381.9,191.6 386.8,191.4 391.6,192.0 396.5,191.9 401.4,191.8 406.2,192.9 411.0,193.0 415.9,193.0 420.8,193.8 425.6,193.7 430.4,194.0 435.3,194.2 440.1,193.9 445.0,194.3 449.9,194.3 454.7,194.1 459.6,194.8 464.4,194.4 469.2,194.3 474.1,194.6 478.9,194.9 483.8,195.3 488.6,194.7 493.5,194.7 498.3,195.4 503.2,194.9 508.1,195.2 512.9,194.7 517.8,194.4 522.6,194.8 527.5,194.9 532.3,194.2 537.1,194.8 542.0,194.7 546.8,194.3 551.7,194.6 556.5,194.7 561.4,194.3 566.2,194.4 571.1,194.0 576.0,193.4 580.8,193.6 585.6,193.0 590.5,192.9 595.3,192.4 600.2,190.3 605.0,188.4 609.9,185.9 614.8,181.8 619.6,179.2 624.5,174.8 629.3,170.7 634.1,163.8 639.0,160.1 643.8,157.4 648.7,157.9 653.5,154.0 658.4,155.2 663.2,154.6 668.1,155.5 673.0,159.2 677.8,159.9 682.6,161.8 687.5,166.0 692.3,169.7 697.2,173.1 702.0,176.1 706.9,178.5 711.8,179.5 716.6,182.2 721.4,184.0 726.3,185.5 731.1,187.0 736.0,188.4 740.9,187.2 745.7,187.9 750.5,189.9 755.4,189.6 760.2,189.7 765.1,189.6 769.9,191.5 774.8,194.1 779.6,196.8 784.5,200.5"/>
<polyline points="202.5,200.5 207.3,193.7 212.2,189.2 217.1,185.0 221.9,181.7 226.8,178.8 231.6,176.7 236.4,172.6 241.3,171.5 246.2,170.6 251.0,168.9 255.8,166.9 260.7,165.8 265.6,164.0 270.4,162.5 275.2,163.0 280.1,164.3 284.9,160.5 289.8,160.8 294.6,162.2 299.5,162.7 304.4,166.3 309.2,165.9 314.1,168.0 318.9,167.2 323.8,170.7 328.6,171.4 333.4,170.7 338.3,172.8 343.1,174.7 348.0,174.4 352.9,177.4 357.7,176.9 362.5,178.9 367.4,179.1 372.2,181.5 377.1,182.6 381.9,183.1 386.8,184.1 391.6,184.7 396.5,185.6 401.4,186.6 406.2,187.3 411.0,187.9 415.9,188.3 420.8,189.1 425.6,190.0 430.4,189.5 435.3,189.5 440.1,190.7 445.0,191.3 449.9,190.8 454.7,191.2 459.6,191.8 464.4,191.1 469.2,192.2 474.1,192.3 478.9,192.7 483.8,193.0 488.6,192.3 493.5,192.3 498.3,192.3 503.2,193.1 508.1,192.1 512.9,192.4 517.8,192.8 522.6,192.5 527.5,192.1 532.3,192.3 537.1,193.1 542.0,192.7 546.8,191.9 551.7,191.8 556.5,191.6 561.4,191.4 566.2,191.4 571.1,190.9 576.0,191.2 580.8,190.8 585.6,190.8 590.5,190.6 595.3,190.7 600.2,191.3 605.0,190.6 609.9,190.8 614.8,190.3 619.6,190.4 624.5,190.7 629.3,190.2 634.1,190.7 639.0,190.0 643.8,189.2 648.7,188.5 653.5,188.5 658.4,188.0 663.2,187.4 668.1,186.5 673.0,185.9 677.8,185.3 682.6,183.7 687.5,182.2 692.3,183.4 697.2,184.2 702.0,184.9 706.9,185.5 711.8,185.5 716.6,187.4 721.4,186.8 726.3,187.6 731.1,188.2 736.0,188.0 740.9,188.8 745.7,189.7 750.5,189.8 755.4,190.7 760.2,191.0 765.1,191.4 769.9,192.7 774.8,195.0 779.6,197.6 784.5,200.5"/>
<polyline points="202.5,200.3 207.3,199.5 212.2,200.2 217.1,199.9 221.9,199.7 226.8,199.0 231.6,199.1 236.4,198.3 241.3,198.2 246.2,197.8 251.0,196.6 255.8,196.1 260.7,196.0 265.6,195.0 270.4,194.1 275.2,193.4 280.1,192.9 284.9,192.6 289.8,192.1 294.6,191.5 299.5,190.4 304.4,190.3 309.2,188.9 314.1,189.7 318.9,189.7 323.8,189.1 328.6,188.9 333.4,190.3 338.3,190.0 343.1,190.1 348.0,189.9 352.9,190.0 357.7,190.4 362.5,190.1 367.4,189.0 372.2,189.8 377.1,188.7 381.9,189.3 386.8,189.4 391.6,189.3 396.5,188.8 401.4,188.3 406.2,187.8 411.0,187.9 415.9,187.1 420.8,186.7 425.6,186.2 430.4,187.1 435.3,187.6 440.1,185.8 445.0,186.0 449.9,186.2 454.7,186.0 459.6,186.1 464.4,186.7 469.2,186.6 474.1,186.4 478.9,186.5 483.8,186.5 488.6,186.0 493.5,187.0 498.3,186.6 503.2,186.5 508.1,187.0 512.9,187.1 517.8,186.2 522.6,186.4 527.5,186.4 532.3,186.2 537.1,186.2 542.0,185.6 546.8,184.8 551.7,183.8 556.5,184.4 561.4,184.0 566.2,182.7 571.1,180.8 576.0,181.8 580.8,180.4 585.6,181.0 590.5,179.8 595.3,179.9 600.2,180.8 605.0,179.6 609.9,178.1 614.8,179.1 619.6,179.0 624.5,178.9 629.3,178.8 634.1,177.7 639.0,177.2 643.8,175.7 648.7,176.6 653.5,175.7 658.4,175.2 663.2,174.2 668.1,173.1 673.0,172.6 677.8,176.9 682.6,177.2 687.5,175.6 692.3,177.4 697.2,179.2 702.0,179.4 706.9,180.0 711.8,180.6 716.6,182.7 721.4,183.7 726.3,184.3 731.1,186.2 736.0,187.8 740.9,190.0 745.7,191.5 750.5,192.5 755.4,193.7 760.2,194.2 765.1,195.0 769.9,196.8 774.8,198.5 779.6,199.1 784.5,200.5"/>
<polyline points="202.5,199.5 207.3,199.5 212.2,199.0 217.1,198.2 221.9,198.0 226.8,197.6 231.6,196.3 236.4,195.1 241.3,193.4 246.2,191.7 251.0,189.2 255.8,188.3 260.7,185.8 265.6,185.1 270.4,183.0 275.2,179.0 280.1,178.2 284.9,178.2 289.8,179.3 294.6,176.9 299.5,175.5 304.4,174.7 309.2,173.8 314.1,175.7 318.9,175.5 323.8,178.1 328.6,178.2 333.4,178.6 338.3,179.7 343.1,179.6 348.0,180.7 352.9,181.2 357.7,181.3 362.5,181.8 367.4,182.2 372.2,183.0 377.1,183.9 381.9,183.8 386.8,184.7 391.6,184.6 396.5,186.0 401.4,185.5 406.2,186.3 411.0,186.6 415.9,186.8 420.8,187.1 425.6,187.5 430.4,187.1 435.3,187.9 440.1,188.0 445.0,188.5 449.9,188.6 454.7,188.4 459.6,188.2 464.4,188.3 469.2,188.5 474.1,188.2 478.9,188.1 483.8,188.7 488.6,188.6 493.5,188.3 498.3,188.6 503.2,187.9 508.1,188.6 512.9,188.3 517.8,188.0 522.6,188.1 527.5,188.9 532.3,188.5 537.1,189.1 542.0,189.5 546.8,189.3 551.7,188.9 556.5,189.2 561.4,189.5 566.2,189.6 571.1,190.2 576.0,189.6 580.8,190.0 585.6,189.6 590.5,189.9 595.3,189.5 600.2,189.5 605.0,189.9 609.9,188.9 614.8,188.9 619.6,188.3 624.5,188.6 629.3,188.4 634.1,187.5 639.0,187.8 643.8,186.7 648.7,186.9 653.5,184.3 658.4,183.8 663.2,182.6 668.1,183.8 673.0,185.8 677.8,186.4 682.6,188.1 687.5,190.0 692.3,188.1 697.2,188.2 702.0,189.0 706.9,190.2 711.8,189.8 716.6,191.3 721.4,192.4 726.3,193.6 731.1,194.4 736.0,195.3 740.9,196.8 745.7,197.0 750.5,197.5 755.4,198.1 760.2,199.0 765.1,198.8 769.9,199.2 774.8,199.9 779.6,200.0 784.5,200.5"/>
<polyline points="202.5,200.2 207.3,199.6 212.2,199.1 217.1,199.2 221.9,198.7 226.8,198.4 231.6,197.3 236.4,197.2 241.3,196.8 246.2,195.5 251.0,195.3 255.8,195.2 260.7,194.2 265.6,194.1 270.4,193.6 275.2,193.8 280.1,193.7 284.9,192.8 289.8,192.7 294.6,192.6 299.5,192.3 304.4,193.2 309.2,193.7 314.1,194.3 318.9,194.0 323.8,193.5 328.6,194.1 333.4,193.7 338.3,194.2 343.1,194.3 348.0,193.8 352.9,194.3 357.7,193.9 362.5,194.4 367.4,194.3 372.2,194.4 377.1,194.4 381.9,194.7 386.8,194.7 391.6,194.5 396.5,195.0 401.4,194.5 406.2,194.7 411.0,194.8 415.9,194.7 420.8,194.8 425.6,195.1 430.4,195.3 435.3,195.7 440.1,195.9 445.0,195.8 449.9,195.7 454.7,196.3 459.6,195.4 464.4,196.3 469.2,196.0 474.1,195.8 478.9,196.2 483.8,195.6 488.6,196.1 493.5,196.4 498.3,195.5 503.2,196.1 508.1,196.2 512.9,196.4 517.8,196.0 522.6,195.9 527.5,195.6 532.3,195.8 537.1,195.4 542.0,195.0 546.8,195.4 551.7,195.2 556.5,194.8 561.4,195.2 566.2,195.2 571.1,195.3 576.0,195.2 580.8,194.3 585.6,194.4 590.5,195.2 595.3,194.6 600.2,194.0 605.0,193.3 609.9,192.9 614.8,192.4 619.6,191.6 624.5,190.6 629.3,189.6 634.1,187.8 639.0,187.0 643.8,184.5 648.7,182.1 653.5,176.9 658.4,174.8 663.2,171.1 668.1,161.6 673.0,158.6 677.8,155.4 682.6,153.4 687.5,154.3 692.3,151.4 697.2,156.1 702.0,154.7 706.9,160.6 711.8,166.8 716.6,168.9 721.4,172.0 726.3,176.9 731.1,179.5 736.0,183.1 740.9,185.5 745.7,188.1 750.5,187.7 755.4,189.4 760.2,189.9 765.1,190.7 769.9,192.5 774.8,194.0 779.6,197.2 784.5,200.5"/>
<polyline points="202.5,200.2 207.3,194.9 212.2,190.1 217.1,186.7 221.9,182.2 226.8,179.4 231.6,178.5 236.4,174.1 241.3,171.0 246.2,170.0 251.0,169.9 255.8,167.3 260.7,164.5 265.6,162.5 270.4,160.7 275.2,160.3 280.1,159.3 284.9,162.9 289.8,156.9 294.6,159.5 299.5,159.3 304.4,162.1 309.2,162.6 314.1,164.2 318.9,164.2 323.8,166.2 328.6,168.6 333.4,168.9 338.3,172.2 343.1,172.9 348.0,174.7 352.9,175.0 357.7,177.6 362.5,177.6 367.4,178.0 372.2,181.7 377.1,180.1 381.9,182.4 386.8,183.4 391.6,185.5 396.5,185.2 401.4,187.4 406.2,186.4 411.0,187.9 415.9,188.0 420.8,188.7 425.6,189.0 430.4,189.4 435.3,189.4 440.1,190.6 445.0,190.8 449.9,191.4 454.7,191.5 459.6,191.4 464.4,191.1 469.2,192.3 474.1,192.0 478.9,191.7 483.8,192.5 488.6,192.7 493.5,192.8 498.3,191.8 503.2,192.0 508.1,192.1 512.9,192.5 517.8,191.7 522.6,192.2 527.5,192.4 532.3,192.2 537.1,191.9 542.0,190.6 546.8,192.0 551.7,190.1 556.5,190.3 561.4,190.0 566.2,189.6 571.1,189.6 576.0,188.8 580.8,188.4 585.6,187.8 590.5,186.7 595.3,185.4 600.2,185.5 605.0,185.0 609.9,182.7 614.8,181.9 619.6,180.6 624.5,179.7 629.3,179.2 634.1,176.0 639.0,176.5 643.8,174.3 648.7,173.0 653.5,171.6 658.4,170.6 663.2,169.0 668.1,166.5 673.0,163.5 677.8,161.7 682.6,163.5 687.5,163.8 692.3,164.7 697.2,165.9 702.0,167.6 706.9,168.7 711.8,170.5 716.6,172.0 721.4,174.7 726.3,177.0 731.1,178.8 736.0,179.8 740.9,181.2 745.7,183.2 750.5,185.5 755.4,187.6 760.2,189.8 765.1,190.5 769.9,193.1 774.8,195.5 779.6,197.9 784.5,200.5"/>
<polyline points="202.5,199.3 207.3,198.8 212.2,198.0 217.1,197.1 221.9,196.1 226.8,194.8 231.6,192.6 236.4,191.1 241.3,187.9 246.2,185.6 251.0,183.1 255.8,180.3 260.7,177.2 265.6,173.8 270.4,170.4 275.2,167.8 280.1,167.7 284.9,165.8 289.8,164.3 294.6,164.6 299.5,161.4 304.4,164.8 309.2,159.7 314.1,163.3 318.9,165.7 323.8,169.3 328.6,166.3 333.4,170.0 338.3,170.6 343.1,170.7 348.0,173.4 352.9,174.6 357.7,174.5 362.5,176.5 367.4,176.2 372.2,177.9 377.1,178.7 381.9,181.2 386.8,180.9 391.6,182.0 396.5,181.4 401.4,183.9 406.2,182.4 411.0,183.4 415.9,184.1 420.8,185.0 425.6,185.4 430.4,185.6 435.3,186.3 440.1,186.6 445.0,186.7 449.9,185.9 454.7,185.9 459.6,186.0 464.4,186.4 469.2,186.4 474.1,186.4 478.9,186.8 483.8,186.1 488.6,186.7 493.5,185.7 498.3,186.9 503.2,186.1 508.1,186.3 512.9,186.3 517.8,184.7 522.6,186.0 527.5,185.2 532.3,184.7 537.1,184.7 542.0,185.4 546.8,185.1 551.7,184.9 556.5,185.6 561.4,185.8 566.2,185.8 571.1,184.0 576.0,184.3 580.8,185.2 585.6,185.2 590.5,184.5 595.3,184.4 600.2,184.4 605.0,183.4 609.9,184.3 614.8,183.5 619.6,184.4 624.5,183.4 629.3,183.9 634.1,183.0 639.0,182.4 643.8,181.7 648.7,181.2 653.5,181.3 658.4,178.6 663.2,178.9 668.1,177.1 673.0,178.4 677.8,182.3 682.6,182.8 687.5,183.9 692.3,182.6 697.2,184.4 702.0,184.1 706.9,186.0 711.8,186.6 716.6,187.3 721.4,189.2 726.3,189.6 731.1,191.1 736.0,191.6 740.9,193.2 745.7,193.4 750.5,194.6 755.4,195.2 760.2,195.9 765.1,196.3 769.9,197.1 774.8,198.0 779.6,199.2 784.5,200.5"/>
<polyline points="202.5,197.7 207.3,197.1 212.2,196.8 217.1,195.0 221.9,193.7 226.8,192.6 231.6,189.3 236.4,187.5 241.3,186.4 246.2,183.7 251.0,182.1 255.8,177.8 260.7,175.1 265.6,175.5 270.4,174.0 275.2,173.4 280.1,170.5 284.9,168.1 289.8,167.7 294.6,166.0 299.5,168.2 304.4,170.0 309.2,172.8 314.1,173.0 318.9,174.7 323.8,175.4 328.6,176.1 333.4,177.3 338.3,178.7 343.1,179.3 348.0,178.5 352.9,179.6 357.7,179.4 362.5,181.6 367.4,181.9 372.2,181.3 377.1,180.9 381.9,181.9 386.8,181.8 391.6,181.6 396.5,181.6 401.4,182.9 406.2,182.8 411.0,184.1 415.9,183.3 420.8,183.1 425.6,183.1 430.4,185.0 435.3,184.4 440.1,184.7 445.0,183.6 449.9,185.8 454.7,184.9 459.6,183.1 464.4,184.1 469.2,184.3 474.1,184.2 478.9,183.4 483.8,183.5 488.6,183.5 493.5,183.1 498.3,181.8 503.2,181.8 508.1,181.1 512.9,181.6 517.8,181.2 522.6,180.2 527.5,180.8 532.3,179.8 537.1,180.5 542.0,179.6 546.8,179.8 551.7,179.4 556.5,179.0 561.4,178.0 566.2,177.9 571.1,178.4 576.0,180.1 580.8,178.9 585.6,180.9 590.5,180.4 595.3,183.1 600.2,182.5 605.0,184.1 609.9,184.0 614.8,184.9 619.6,184.8 624.5,185.9 629.3,186.8 634.1,187.0 639.0,186.9 643.8,186.5 648.7,187.3 653.5,186.1 658.4,186.5 663.2,185.8 668.1,183.8 673.0,183.3 677.8,183.7 682.6,184.4 687.5,186.5 692.3,187.7 697.2,189.6 702.0,190.6 706.9,192.0 711.8,193.5 716.6,195.3 721.4,196.5 726.3,197.7 731.1,198.3 736.0,198.8 740.9,199.0 745.7,199.2 750.5,199.9 755.4,199.6 760.2,199.4 765.1,200.1 769.9,200.1 774.8,200.2 779.6,200.4 784.5,200.5"/>
<polyline points="202.5,199.8 207.3,199.5 212.2,199.6 217.1,198.8 221.9,198.3 226.8,197.7 231.6,197.0 236.4,196.1 241.3,194.7 246.2,193.8 251.0,192.7 255.8,191.6 260.7,189.9 265.6,189.2 270.4,188.2 275.2,189.1 280.1,188.6 284.9,187.1 289.8,187.2 294.6,186.1 299.5,186.2 304.4,187.1 309.2,187.4 314.1,187.9 318.9,189.8 323.8,190.0 328.6,190.5 333.4,189.9 338.3,190.9 343.1,191.7 348.0,191.3 352.9,191.8 357.7,191.5 362.5,191.9 367.4,192.1 372.2,192.9 377.1,192.2 381.9,192.6 386.8,192.3 391.6,192.1 396.5,193.1 401.4,193.2 406.2,192.1 411.0,192.0 415.9,192.3 420.8,192.3 425.6,191.4 430.4,192.0 435.3,191.7 440.1,190.8 445.0,191.4 449.9,191.9 454.7,191.2 459.6,191.6 464.4,191.8 469.2,191.6 474.1,191.8 478.9,192.4 483.8,191.1 488.6,192.1 493.5,192.2 498.3,192.6 503.2,191.3 508.1,191.5 512.9,191.6 517.8,191.8 522.6,190.8 527.5,190.9 532.3,190.9 537.1,192.2 542.0,190.9 546.8,191.1 551.7,192.2 556.5,191.3 561.4,190.9 566.2,190.6 571.1,191.5 576.0,190.7 580.8,191.5 585.6,191.2 590.5,191.7 595.3,190.7 600.2,190.6 605.0,191.1 609.9,189.4 614.8,188.3 619.6,187.0 624.5,184.8 629.3,183.0 634.1,180.8 639.0,177.7 643.8,175.0 648.7,172.7 653.5,170.1 658.4,165.5 663.2,162.8 668.1,161.3 673.0,160.2 677.8,160.6 682.6,163.2 687.5,167.7 692.3,170.1 697.2,173.8 702.0,177.6 706.9,182.9 711.8,186.1 716.6,188.8 721.4,192.5 726.3,195.1 731.1,196.1 736.0,197.6 740.9,198.2 745.7,199.0 750.5,199.2 755.4,199.3 760.2,199.5 765.1,199.9 769.9,200.2 774.8,200.5 779.6,200.5 784.5,200.5"/>
<polyline points="202.5,200.3 207.3,195.4 212.2,191.5 217.1,187.4 221.9,183.9 226.8,181.3 231.6,177.4 236.4,176.3 241.3,172.5 246.2,171.6 251.0,168.3 255.8,167.1 260.7,165.3 265.6,163.2 270.4,164.1 275.2,163.4 280.1,162.0 284.9,161.4 289.8,159.4 294.6,160.9 299.5,161.3 304.4,161.2 309.2,162.8 314.1,161.8 318.9,166.4 323.8,165.1 328.6,166.0 333.4,168.2 338.3,169.0 343.1,168.6 348.0,171.0 352.9,173.7 357.7,174.5 362.5,173.6 367.4,176.4 372.2,176.0 377.1,177.5 381.9,179.6 386.8,180.4 391.6,181.8 396.5,182.9 401.4,184.2 406.2,184.3 411.0,186.2 415.9,186.1 420.8,186.7 425.6,186.7 430.4,189.2 435.3,189.3 440.1,189.5 445.0,189.6 449.9,189.9 454.7,190.7 459.6,190.6 464.4,191.1 469.2,191.4 474.1,192.5 478.9,192.6 483.8,192.2 488.6,192.5 493.5,192.7 498.3,193.0 503.2,192.6 508.1,192.9 512.9,193.0 517.8,192.4 522.6,192.2 527.5,192.0 532.3,192.4 537.1,191.5 542.0,192.2 546.8,192.4 551.7,192.0 556.5,191.7 561.4,192.0 566.2,191.4 571.1,191.4 576.0,191.6 580.8,190.9 585.6,191.1 590.5,191.0 595.3,190.3 600.2,190.4 605.0,189.1 609.9,189.1 614.8,188.6 619.6,188.4 624.5,187.1 629.3,187.0 634.1,185.3 639.0,184.9 643.8,184.2 648.7,184.6 653.5,183.4 658.4,181.6 663.2,180.9 668.1,178.2 673.0,180.3 677.8,182.1 682.6,183.0 687.5,184.8 692.3,182.1 697.2,183.3 702.0,183.6 706.9,184.2 711.8,185.0 716.6,186.3 721.4,187.6 726.3,188.4 731.1,189.2 736.0,190.2 740.9,191.7 745.7,192.5 750.5,193.6 755.4,194.3 760.2,195.1 765.1,195.5 769.9,196.9 774.8,198.0 779.6,199.1 784.5,200.5"/>
<polyline points="202.5,199.9 207.3,199.5 212.2,199.1 217.1,198.7 221.9,198.1 226.8,197.1 231.6,196.9 236.4,194.7 241.3,193.1 246.2,191.7 251.0,190.1 255.8,188.5 260.7,186.3 265.6,183.7 270.4,183.4 275.2,181.7 280.1,181.1 284.9,180.2 289.8,178.5 294.6,177.4 299.5,176.3 304.4,176.3 309.2,175.0 314.1,175.9 318.9,177.8 323.8,178.5 328.6,180.4 333.4,181.9 338.3,182.7 343.1,183.5 348.0,183.7 352.9,185.4 357.7,185.1 362.5,185.5 367.4,186.6 372.2,186.3 377.1,187.6 381.9,187.9 386.8,188.2 391.6,188.2 396.5,188.7 401.4,188.5 406.2,190.0 411.0,189.6 415.9,189.8 420.8,189.4 425.6,190.2 430.4,190.4 435.3,191.1 440.1,190.9 445.0,191.5 449.9,191.0 454.7,192.1 459.6,191.4 464.4,192.0 469.2,191.1 474.1,191.6 478.9,190.9 483.8,191.3 488.6,190.5 493.5,190.5 498.3,190.9 503.2,190.1 508.1,190.7 512.9,189.7 517.8,190.1 522.6,189.0 527.5,189.3 532.3,189.3 537.1,189.0 542.0,189.3 546.8,189.5 551.7,188.3 556.5,189.2 561.4,189.0 566.2,189.7 571.1,189.1 576.0,189.0 580.8,189.3 585.6,189.7 590.5,189.6 595.3,190.6 600.2,190.0 605.0,190.5 609.9,190.1 614.8,190.6 619.6,190.1 624.5,189.9 629.3,189.9 634.1,190.8 639.0,190.1 643.8,189.4 648.7,189.1 653.5,189.9 658.4,189.0 663.2,187.7 668.1,186.4 673.0,186.1 677.8,185.4 682.6,186.3 687.5,186.2 692.3,187.6 697.2,187.1 702.0,187.4 706.9,187.6 711.8,188.3 716.6,188.6 721.4,189.2 726.3,189.4 731.1,190.5 736.0,191.0 740.9,191.8 745.7,192.3 750.5,193.4 755.4,193.6 760.2,194.6 765.1,195.5 769.9,196.8 774.8,198.1 779.6,199.2 784.5,200.5"/>
<polyline points="202.5,199.7 207.3,199.6 212.2,199.4 217.1,198.6 221.9,197.7 226.8,197.2 231.6,195.8 236.4,195.4 241.3,193.7 246.2,192.3 251.0,191.5 255.8,190.0 260.7,188.8 265.6,188.0 270.4,186.9 275.2,186.3 280.1,186.5 284.9,186.5 289.8,184.5 294.6,184.7 299.5,183.7 304.4,183.3 309.2,183.3 314.1,184.6 318.9,184.3 323.8,185.3 328.6,185.2 333.4,186.5 338.3,186.7 343.1,186.4 348.0,186.8 352.9,187.7 357.7,187.9 362.5,188.0 367.4,188.0 372.2,189.3 377.1,188.6 381.9,188.4 386.8,188.8 391.6,189.1 396.5,189.1 401.4,189.2 406.2,189.6 411.0,189.3 415.9,189.1 420.8,190.7 425.6,188.6 430.4,188.9 435.3,188.0 440.1,188.8 445.0,188.3 449.9,187.8 454.7,188.6 459.6,188.7 464.4,187.9 469.2,188.3 474.1,187.7 478.9,188.5 483.8,187.5 488.6,189.3 493.5,188.5 498.3,188.9 503.2,188.7 508.1,188.0 512.9,187.8 517.8,188.1 522.6,187.3 527.5,186.6 532.3,186.8 537.1,185.7 542.0,185.7 546.8,185.9 551.7,185.0 556.5,185.0 561.4,184.4 566.2,185.1 571.1,185.9 576.0,185.5 580.8,185.0 585.6,185.2 590.5,184.6 595.3,184.2 600.2,184.5 605.0,184.9 609.9,183.0 614.8,183.5 619.6,182.8 624.5,181.8 629.3,181.0 634.1,181.4 639.0,179.9 643.8,180.4 648.7,178.3 653.5,176.7 658.4,177.1 663.2,173.5 668.1,171.1 673.0,171.0 677.8,170.2 682.6,171.4 687.5,174.9 692.3,176.8 697.2,178.2 702.0,181.7 706.9,182.8 711.8,184.4 716.6,186.4 721.4,188.6 726.3,191.0 731.1,193.2 736.0,195.1 740.9,195.4 745.7,196.6 750.5,197.2 755.4,197.7 760.2,198.4 765.1,199.0 769.9,198.7 774.8,199.7 779.6,200.0 784.5,200.5"/>
<polyline points="202.5,200.0 207.3,199.4 212.2,199.3 217.1,199.7 221.9,198.7 226.8,198.0 231.6,197.6 236.4,197.3 241.3,196.3 246.2,195.6 251.0,195.0 255.8,193.7 260.7,192.7 265.6,191.3 270.4,190.6 275.2,189.9 280.1,190.4 284.9,189.5 289.8,188.6 294.6,187.7 299.5,188.1 304.4,188.1 309.2,188.4 314.1,188.9 318.9,190.4 323.8,190.8 328.6,191.3 333.4,190.4 338.3,191.1 343.1,192.0 348.0,192.0 352.9,192.1 357.7,192.0 362.5,192.6 367.4,192.3 372.2,192.9 377.1,192.6 381.9,192.3 386.8,192.1 391.6,193.4 396.5,192.9 401.4,192.9 406.2,193.0 411.0,193.2 415.9,193.3 420.8,193.4 425.6,192.5 430.4,193.0 435.3,193.1 440.1,192.7 445.0,192.8 449.9,193.0 454.7,193.0 459.6,192.9 464.4,193.0 469.2,192.8 474.1,193.4 478.9,193.9 483.8,192.9 488.6,193.4 493.5,194.3 498.3,193.8 503.2,194.1 508.1,193.4 512.9,194.0 517.8,193.9 522.6,193.7 527.5,193.5 532.3,193.6 537.1,193.2 542.0,193.6 546.8,193.0 551.7,192.9 556.5,193.2 561.4,192.0 566.2,191.9 571.1,192.0 576.0,191.0 580.8,191.1 585.6,190.2 590.5,190.9 595.3,190.1 600.2,189.6 605.0,188.5 609.9,188.7 614.8,187.4 619.6,187.5 624.5,185.7 629.3,184.1 634.1,183.1 639.0,182.8 643.8,179.7 648.7,178.5 653.5,173.9 658.4,173.0 663.2,167.9 668.1,166.5 673.0,163.2 677.8,160.9 682.6,160.8 687.5,160.7 692.3,165.3 697.2,164.1 702.0,168.6 706.9,171.3 711.8,176.9 716.6,178.8 721.4,182.5 726.3,186.2 731.1,188.9 736.0,191.4 740.9,193.9 745.7,195.2 750.5,196.4 755.4,197.5 760.2,198.5 765.1,199.0 769.9,199.2 774.8,200.0 779.6,200.4 784.5,200.5"/>
<polyline points="202.5,200.2 207.3,191.8 212.2,185.0 217.1,179.1 221.9,174.3 226.8,171.9 231.6,167.5 236.4,164.8 241.3,161.5 246.2,161.7 251.0,157.6 255.8,156.8 260.7,157.4 265.6,153.8 270.4,155.2 275.2,155.0 280.1,152.3 284.9,153.6 289.8,151.7 294.6,153.8 299.5,153.8 304.4,154.2 309.2,156.4 314.1,156.8 318.9,158.5 323.8,161.5 328.6,161.2 333.4,162.8 338.3,165.2 343.1,166.0 348.0,166.9 352.9,169.1 357.7,172.2 362.5,172.0 367.4,173.8 372.2,175.3 377.1,176.6 381.9,178.5 386.8,178.7 391.6,180.3 396.5,181.7 401.4,182.3 406.2,182.8 411.0,183.4 415.9,184.0 420.8,185.1 425.6,185.0 430.4,186.4 435.3,186.4 440.1,185.6 445.0,186.2 449.9,185.4 454.7,184.7 459.6,186.6 464.4,185.3 469.2,184.4 474.1,186.1 478.9,185.4 483.8,185.6 488.6,185.4 493.5,185.4 498.3,185.3 503.2,185.1 508.1,185.8 512.9,184.2 517.8,185.2 522.6,184.8 527.5,184.2 532.3,185.3 537.1,184.3 542.0,184.5 546.8,184.7 551.7,183.6 556.5,185.6 561.4,184.5 566.2,184.3 571.1,185.0 576.0,184.4 580.8,184.7 585.6,186.1 590.5,185.8 595.3,185.3 600.2,186.1 605.0,185.3 609.9,184.9 614.8,185.9 619.6,186.3 624.5,185.4 629.3,185.2 634.1,185.4 639.0,184.5 643.8,184.8 648.7,183.5 653.5,181.0 658.4,182.2 663.2,178.6 668.1,180.2 673.0,181.1 677.8,182.3 682.6,183.6 687.5,185.7 692.3,182.7 697.2,184.0 702.0,185.4 706.9,186.4 711.8,188.7 716.6,189.7 721.4,191.3 726.3,193.5 731.1,194.2 736.0,195.6 740.9,196.2 745.7,197.1 750.5,198.2 755.4,198.2 760.2,198.7 765.1,199.2 769.9,199.4 774.8,199.7 779.6,200.1 784.5,200.5"/>
<polyline points="202.5,199.9 207.3,199.5 212.2,199.2 217.1,198.9 221.9,197.6 226.8,196.9 231.6,196.3 236.4,195.0 241.3,193.4 246.2,192.0 251.0,190.6 255.8,189.0 260.7,187.9 265.6,185.8 270.4,185.0 275.2,185.9 280.1,185.1 284.9,185.2 289.8,184.3 294.6,184.3 299.5,183.5 304.4,182.7 309.2,184.3 314.1,185.0 318.9,186.0 323.8,185.6 328.6,186.1 333.4,185.4 338.3,185.8 343.1,185.0 348.0,185.5 352.9,185.0 357.7,183.5 362.5,183.5 367.4,184.1 372.2,183.8 377.1,182.3 381.9,183.4 386.8,183.6 391.6,184.9 396.5,184.6 401.4,183.8 406.2,183.8 411.0,183.9 415.9,183.0 420.8,184.1 425.6,182.5 430.4,184.3 435.3,181.3 440.1,182.2 445.0,182.2 449.9,181.3 454.7,181.4 459.6,181.0 464.4,182.0 469.2,181.5 474.1,181.5 478.9,182.7 483.8,183.2 488.6,183.0 493.5,183.9 498.3,183.7 503.2,184.2 508.1,183.4 512.9,182.9 517.8,182.6 522.6,182.9 527.5,183.7 532.3,184.0 537.1,182.9 542.0,183.2 546.8,181.6 551.7,181.6 556.5,181.8 561.4,183.3 566.2,182.7 571.1,182.4 576.0,182.9 580.8,181.1 585.6,181.9 590.5,182.3 595.3,182.3 600.2,181.9 605.0,183.2 609.9,183.1 614.8,184.0 619.6,183.5 624.5,183.6 629.3,183.0 634.1,183.4 639.0,182.9 643.8,182.7 648.7,183.4 653.5,183.1 658.4,182.4 663.2,181.9 668.1,180.7 673.0,178.5 677.8,176.9 682.6,176.0 687.5,177.8 692.3,178.6 697.2,179.6 702.0,181.3 706.9,182.4 711.8,185.2 716.6,185.3 721.4,187.1 726.3,187.6 731.1,189.2 736.0,190.5 740.9,191.5 745.7,192.7 750.5,194.3 755.4,194.8 760.2,195.9 765.1,196.4 769.9,197.5 774.8,198.3 779.6,199.4 784.5,200.5"/>
<polyline points="202.5,199.4 207.3,199.4 212.2,199.7 217.1,198.6 221.9,197.6 226.8,197.0 231.6,195.4 236.4,194.7 241.3,192.2 246.2,190.0 251.0,186.0 255.8,183.3 260.7,181.0 265.6,175.6 270.4,174.8 275.2,169.2 280.1,167.1 284.9,164.8 289.8,163.5 294.6,162.8 299.5,162.4 304.4,162.3 309.2,161.0 314.1,158.9 318.9,158.3 323.8,161.7 328.6,164.9 333.4,166.0 338.3,167.6 343.1,167.1 348.0,170.4 352.9,171.0 357.7,171.9 362.5,174.4 367.4,174.8 372.2,174.7 377.1,176.7 381.9,178.6 386.8,179.5 391.6,180.4 396.5,181.7 401.4,182.1 406.2,183.3 411.0,184.5 415.9,184.5 420.8,185.5 425.6,186.3 430.4,185.5 435.3,185.9 440.1,186.9 445.0,187.3 449.9,188.1 454.7,188.4 459.6,187.9 464.4,188.6 469.2,189.1 474.1,189.0 478.9,187.9 483.8,188.5 488.6,188.4 493.5,189.6 498.3,188.7 503.2,188.9 508.1,188.8 512.9,189.3 517.8,189.8 522.6,190.1 527.5,189.8 532.3,188.9 537.1,189.7 542.0,189.2 546.8,188.6 551.7,188.7 556.5,188.4 561.4,188.4 566.2,187.2 571.1,187.0 576.0,187.8 580.8,186.3 585.6,187.3 590.5,187.4 595.3,187.5 600.2,188.1 605.0,187.6 609.9,188.4 614.8,187.4 619.6,188.4 624.5,188.7 629.3,188.1 634.1,189.2 639.0,188.5 643.8,189.0 648.7,188.4 653.5,188.7 658.4,188.6 663.2,187.6 668.1,187.3 673.0,186.0 677.8,185.0 682.6,185.7 687.5,187.7 692.3,188.7 697.2,189.1 702.0,189.7 706.9,192.0 711.8,191.9 716.6,192.3 721.4,194.0 726.3,194.3 731.1,195.5 736.0,196.7 740.9,197.5 745.7,197.6 750.5,198.6 755.4,198.9 760.2,199.5 765.1,199.4 769.9,199.4 774.8,200.0 779.6,200.2 784.5,200.5"/>
<polyline points="202.5,199.2 207.3,198.8 212.2,198.2 217.1,197.1 221.9,197.1 226.8,195.4 231.6,195.4 236.4,192.1 241.3,191.5 246.2,189.3 251.0,188.7 255.8,186.8 260.7,186.4 265.6,182.9 270.4,182.9 275.2,182.9 280.1,183.6 284.9,181.5 289.8,181.3 294.6,180.7 299.5,180.8 304.4,182.4 309.2,182.8 314.1,183.8 318.9,184.4 323.8,185.8 328.6,185.8 333.4,186.7 338.3,186.7 343.1,187.3 348.0,188.0 352.9,187.6 357.7,188.3 362.5,188.4 367.4,188.3 372.2,188.5 377.1,189.5 381.9,189.3 386.8,189.7 391.6,189.9 396.5,190.3 401.4,190.3 406.2,190.7 411.0,190.7 415.9,190.4 420.8,190.3 425.6,190.6 430.4,190.6 435.3,189.8 440.1,190.6 445.0,190.3 449.9,190.9 454.7,190.4 459.6,190.9 464.4,190.9 469.2,190.7 474.1,191.5 478.9,191.5 483.8,191.7 488.6,191.8 493.5,191.9 498.3,191.7 503.2,191.3 508.1,191.5 512.9,190.5 517.8,190.3 522.6,191.1 527.5,190.2 532.3,189.6 537.1,189.7 542.0,189.3 546.8,188.6 551.7,188.0 556.5,188.2 561.4,188.9 566.2,188.8 571.1,188.5 576.0,189.2 580.8,189.8 585.6,189.9 590.5,189.5 595.3,189.6 600.2,189.4 605.0,190.3 609.9,188.9 614.8,187.5 619.6,186.1 624.5,184.9 629.3,181.3 634.1,179.0 639.0,175.1 643.8,171.3 648.7,170.0 653.5,164.1 658.4,159.8 663.2,158.8 668.1,156.7 673.0,157.0 677.8,160.6 682.6,163.5 687.5,166.9 692.3,172.4 697.2,177.0 702.0,182.9 706.9,185.6 711.8,189.4 716.6,191.6 721.4,193.6 726.3,194.7 731.1,196.9 736.0,197.6 740.9,198.4 745.7,198.8 750.5,198.8 755.4,199.1 760.2,199.4 765.1,199.6 769.9,199.3 774.8,200.2 779.6,200.3 784.5,200.5"/>
<polyline points="202.5,200.3 207.3,191.0 212.2,184.2 217.1,178.5 221.9,173.0 226.8,168.8 231.6,165.5 236.4,163.1 241.3,157.4 246.2,156.7 251.0,152.5 255.8,154.1 260.7,151.6 265.6,151.4 270.4,149.9 275.2,150.0 280.1,149.5 284.9,152.4 289.8,149.1 294.6,148.2 299.5,153.4 304.4,152.4 309.2,152.1 314.1,153.2 318.9,157.0 323.8,157.7 328.6,157.6 333.4,159.2 338.3,163.3 343.1,164.6 348.0,164.3 352.9,166.9 357.7,168.8 362.5,170.3 367.4,170.7 372.2,173.0 377.1,174.0 381.9,174.6 386.8,177.0 391.6,175.8 396.5,177.3 401.4,177.6 406.2,179.8 411.0,180.4 415.9,181.3 420.8,181.9 425.6,184.1 430.4,183.3 435.3,184.7 440.1,184.4 445.0,185.1 449.9,184.6 454.7,185.6 459.6,186.7 464.4,185.7 469.2,186.3 474.1,186.7 478.9,187.4 483.8,187.4 488.6,186.6 493.5,186.5 498.3,186.5 503.2,186.3 508.1,185.3 512.9,185.9 517.8,185.0 522.6,184.6 527.5,185.1 532.3,184.9 537.1,184.4 542.0,182.6 546.8,182.8 551.7,182.4 556.5,182.3 561.4,181.5 566.2,181.4 571.1,181.6 576.0,181.9 580.8,182.6 585.6,181.9 590.5,183.8 595.3,183.8 600.2,184.3 605.0,186.4 609.9,186.0 614.8,186.9 619.6,187.1 624.5,187.1 629.3,188.2 634.1,189.1 639.0,187.6 643.8,188.7 648.7,188.1 653.5,188.0 658.4,187.3 663.2,187.1 668.1,186.5 673.0,185.9 677.8,187.6 682.6,188.9 687.5,188.9 692.3,189.7 697.2,190.0 702.0,191.2 706.9,191.5 711.8,192.1 716.6,193.0 721.4,193.4 726.3,194.0 731.1,195.4 736.0,196.0 740.9,196.9 745.7,197.3 750.5,198.1 755.4,198.3 760.2,198.9 765.1,199.1 769.9,199.4 774.8,199.9 779.6,200.1 784.5,200.5"/>
<polyline points="202.5,199.9 207.3,199.0 212.2,199.6 217.1,198.6 221.9,197.7 226.8,197.2 231.6,196.4 236.4,195.2 241.3,193.6 246.2,191.2 251.0,189.6 255.8,188.9 260.7,187.0 265.6,185.7 270.4,183.1 275.2,181.8 280.1,181.3 284.9,181.0 289.8,179.4 294.6,177.8 299.5,176.9 304.4,176.3 309.2,174.9 314.1,174.5 318.9,176.0 323.8,175.9 328.6,177.6 333.4,178.1 338.3,177.9 343.1,178.8 348.0,179.9 352.9,181.2 357.7,181.6 362.5,182.4 367.4,183.3 372.2,184.5 377.1,184.3 381.9,186.4 386.8,186.2 391.6,187.0 396.5,187.1 401.4,188.4 406.2,188.5 411.0,188.2 415.9,188.5 420.8,188.6 425.6,188.5 430.4,188.0 435.3,188.5 440.1,188.2 445.0,187.6 449.9,188.3 454.7,187.8 459.6,188.0 464.4,189.0 469.2,189.3 474.1,189.4 478.9,189.0 483.8,189.9 488.6,190.4 493.5,190.6 498.3,190.8 503.2,191.1 508.1,191.4 512.9,190.7 517.8,191.0 522.6,191.2 527.5,191.1 532.3,190.8 537.1,191.2 542.0,191.3 546.8,191.4 551.7,190.3 556.5,190.4 561.4,189.7 566.2,188.8 571.1,188.6 576.0,188.3 580.8,188.5 585.6,188.8 590.5,188.3 595.3,188.6 600.2,188.1 605.0,188.2 609.9,189.0 614.8,188.6 619.6,188.7 624.5,189.1 629.3,189.9 634.1,189.4 639.0,189.2 643.8,188.5 648.7,188.0 653.5,188.7 658.4,187.9 663.2,186.6 668.1,185.7 673.0,185.9 677.8,187.7 682.6,188.1 687.5,188.0 692.3,188.7 697.2,190.2 702.0,192.4 706.9,193.5 711.8,195.8 716.6,197.2 721.4,198.1 726.3,199.4 731.1,199.1 736.0,199.9 740.9,199.9 745.7,199.3 750.5,200.2 755.4,200.0 760.2,200.0 765.1,200.5 769.9,200.5 774.8,200.5 779.6,200.3 784.5,200.5"/>
<polyline points="202.5,199.1 207.3,199.1 212.2,199.0 217.1,198.0 221.9,197.3 226.8,195.8 231.6,194.1 236.4,192.7 241.3,191.2 246.2,188.9 251.0,186.9 255.8,182.9 260.7,181.2 265.6,177.8 270.4,175.1 275.2,170.6 280.1,169.8 284.9,169.5 289.8,169.6 294.6,166.3 299.5,164.1 304.4,162.8 309.2,158.1 314.1,162.2 318.9,164.2 323.8,164.9 328.6,167.8 333.4,168.1 338.3,170.5 343.1,171.5 348.0,171.3 352.9,173.6 357.7,174.3 362.5,175.7 367.4,178.0 372.2,178.8 377.1,179.7 381.9,180.9 386.8,181.8 391.6,182.5 396.5,184.1 401.4,184.2 406.2,185.7 411.0,186.2 415.9,185.1 420.8,186.0 425.6,187.2 430.4,186.3 435.3,187.4 440.1,186.8 445.0,187.4 449.9,188.6 454.7,188.9 459.6,188.6 464.4,188.4 469.2,189.4 474.1,189.3 478.9,189.0 483.8,189.7 488.6,189.2 493.5,188.8 498.3,189.9 503.2,189.5 508.1,189.3 512.9,189.8 517.8,189.5 522.6,188.7 527.5,189.4 532.3,190.0 537.1,189.7 542.0,189.3 546.8,189.0 551.7,188.8 556.5,187.7 561.4,187.0 566.2,187.6 571.1,186.2 576.0,186.4 580.8,186.1 585.6,184.6 590.5,183.5 595.3,183.8 600.2,182.5 605.0,181.8 609.9,181.7 614.8,179.3 619.6,178.9 624.5,177.1 629.3,178.4 634.1,175.2 639.0,174.6 643.8,174.5 648.7,172.8 653.5,172.0 658.4,171.4 663.2,169.2 668.1,165.8 673.0,166.3 677.8,161.3 682.6,166.9 687.5,167.9 692.3,169.6 697.2,173.0 702.0,176.2 706.9,180.3 711.8,182.9 716.6,186.8 721.4,189.8 726.3,192.9 731.1,194.4 736.0,196.1 740.9,197.1 745.7,197.6 750.5,198.6 755.4,198.9 760.2,199.3 765.1,199.0 769.9,199.3 774.8,199.7 779.6,200.1 784.5,200.5"/>
<polyline points="202.5,199.4 207.3,199.1 212.2,198.6 217.1,197.9 221.9,196.8 226.8,195.0 231.6,193.9 236.4,191.6 241.3,190.1 246.2,188.4 251.0,185.6 255.8,183.9 260.7,182.1 265.6,180.0 270.4,179.8 275.2,178.9 280.1,178.5 284.9,177.4 289.8,177.0 294.6,174.6 299.5,174.3 304.4,175.5 309.2,175.8 314.1,177.4 318.9,178.3 323.8,178.0 328.6,177.7 333.4,179.0 338.3,180.4 343.1,179.8 348.0,179.0 352.9,180.5 357.7,181.0 362.5,181.7 367.4,181.1 372.2,182.4 377.1,184.3 381.9,183.4 386.8,185.6 391.6,185.5 396.5,186.7 401.4,186.2 406.2,186.8 411.0,186.9 415.9,187.3 420.8,187.4 425.6,187.0 430.4,187.5 435.3,187.2 440.1,187.7 445.0,187.2 449.9,186.3 454.7,187.1 459.6,186.9 464.4,186.0 469.2,186.9 474.1,186.7 478.9,186.5 483.8,186.2 488.6,187.2 493.5,187.1 498.3,186.2 503.2,187.3 508.1,187.3 512.9,186.8 517.8,186.9 522.6,186.7 527.5,187.9 532.3,187.4 537.1,187.5 542.0,187.0 546.8,187.9 551.7,187.4 556.5,186.8 561.4,186.9 566.2,187.3 571.1,186.6 576.0,186.6 580.8,186.2 585.6,187.2 590.5,187.2 595.3,188.3 600.2,187.5 605.0,187.6 609.9,188.9 614.8,188.7 619.6,188.3 624.5,188.7 629.3,189.7 634.1,189.3 639.0,188.5 643.8,189.9 648.7,189.0 653.5,189.8 658.4,187.0 663.2,186.4 668.1,186.4 673.0,186.1 677.8,184.4 682.6,185.2 687.5,186.2 692.3,187.6 697.2,188.5 702.0,189.4 706.9,190.8 711.8,192.2 716.6,193.7 721.4,195.3 726.3,196.5 731.1,197.7 736.0,198.3 740.9,198.4 745.7,199.1 750.5,199.2 755.4,199.7 760.2,200.1 765.1,199.9 769.9,199.7 774.8,200.2 779.6,200.4 784.5,200.5"/></g>
<polyline class="med" points="202.5,199.6 215.0,198.8 225.0,197.2 237.6,194.0 250.0,189.0 262.6,184.0 272.7,179.4 280.0,178.4 285.0,178.4 297.7,175.2 307.8,173.2 317.8,176.4 330.0,179.0 340.0,180.0 350.0,182.0 365.0,183.2 380.0,185.2 400.0,186.4 425.0,187.2 450.0,187.7 490.0,188.5 540.0,187.7 580.0,186.5 600.0,186.0 620.0,184.8 638.0,183.5 650.0,182.3 660.6,180.7 670.0,178.6 678.0,176.4 685.7,179.7 698.0,184.0 710.8,189.0 723.0,194.7 736.0,197.7 748.0,199.0 765.0,199.5 783.5,199.9"/>
<line class="v" x1="250" y1="7.8" x2="250" y2="200.5"/>
<line class="v v2" x1="297.8" y1="7.8" x2="297.8" y2="200.5" stroke-dasharray="7.2 2.07" stroke-dashoffset="3.3"/>
<line class="v v3" x1="443.9" y1="7.8" x2="443.9" y2="200.5" stroke-dasharray="4.55 1.3" stroke-dashoffset="2.5"/>
<line class="v" x1="638.1" y1="7.8" x2="638.1" y2="200.5" stroke-dasharray="18.1 1.3" stroke-dashoffset="9.5"/>
<path class="ay" d="M202.25,8.00V200.50"/>
<path class="ax" d="M195.6,8.50H202.5"/>
<path class="ax" d="M202.50,200.50v6.3"/>
<path class="ax" d="M195.6,200.50H784.5V206.80"/>
<path class="ax" d="M195.6,152.50H202.50"/>
<path class="ax" d="M195.6,104.50H202.50"/>
<path class="ax" d="M195.6,56.50H202.50"/>
<path class="ax" d="M299.50,200.50v6.3"/>
<path class="ax" d="M396.50,200.50v6.3"/>
<path class="ax" d="M493.50,200.50v6.3"/>
<path class="ax" d="M590.50,200.50v6.3"/>
<path class="ax" d="M687.50,200.50v6.3"/>
<text class="t" x="188.9" y="205.5" text-anchor="end">0</text>
<text class="t" x="188.9" y="157.5" text-anchor="end">100</text>
<text class="t" x="188.9" y="109.5" text-anchor="end">200</text>
<text class="t" x="188.9" y="61.5" text-anchor="end">300</text>
<text class="t" x="188.9" y="13.5" text-anchor="end">400</text>
<text class="t" x="202.5" y="227.7" text-anchor="middle">–1,000</text>
<text class="t" x="299.5" y="227.7" text-anchor="middle">–800</text>
<text class="t" x="396.5" y="227.7" text-anchor="middle">–600</text>
<text class="t" x="493.5" y="227.7" text-anchor="middle">–400</text>
<text class="t" x="590.5" y="227.7" text-anchor="middle">–200</text>
<text class="t" x="687.5" y="227.7" text-anchor="middle">0</text>
<text class="t" x="784.5" y="227.7" text-anchor="middle">200</text>
<text class="b" transform="translate(152.3,103.9) rotate(-90)" text-anchor="middle" style="font-size:15.85px">Volume (mL)</text>
<g class="ind"><polyline points="202.5,469.8 207.3,460.3 212.2,453.3 217.1,447.2 221.9,441.0 226.8,433.8 231.6,428.1 236.4,422.5 241.3,415.2 246.2,408.6 251.0,402.1 255.8,397.9 260.7,394.8 265.6,395.5 270.4,390.4 275.2,392.0 280.1,392.0 284.9,399.5 289.8,399.3 294.6,402.8 299.5,411.7 304.4,410.0 309.2,414.3 314.1,417.1 318.9,420.8 323.8,422.6 328.6,427.1 333.4,429.9 338.3,430.4 343.1,432.1 348.0,435.7 352.9,434.0 357.7,436.5 362.5,437.7 367.4,440.5 372.2,439.1 377.1,441.4 381.9,442.2 386.8,444.1 391.6,446.3 396.5,447.6 401.4,448.0 406.2,446.8 411.0,449.0 415.9,450.1 420.8,450.8 425.6,452.4 430.4,454.2 435.3,455.0 440.1,455.2 445.0,455.9 449.9,456.1 454.7,457.8 459.6,458.4 464.4,458.2 469.2,458.4 474.1,458.5 478.9,458.5 483.8,458.6 488.6,457.6 493.5,457.0 498.3,458.9 503.2,457.5 508.1,458.8 512.9,458.5 517.8,459.0 522.6,459.0 527.5,459.2 532.3,459.1 537.1,459.9 542.0,460.3 546.8,459.6 551.7,460.8 556.5,461.5 561.4,461.1 566.2,461.4 571.1,461.9 576.0,460.9 580.8,462.3 585.6,461.2 590.5,460.8 595.3,461.0 600.2,461.5 605.0,461.7 609.9,460.4 614.8,460.5 619.6,460.6 624.5,461.0 629.3,460.8 634.1,461.5 639.0,460.5 643.8,460.1 648.7,459.8 653.5,459.0 658.4,461.1 663.2,460.8 668.1,459.7 673.0,460.2 677.8,460.8 682.6,460.9 687.5,461.4 692.3,462.2 697.2,462.7 702.0,463.3 706.9,464.3 711.8,465.4 716.6,466.5 721.4,466.7 726.3,468.0 731.1,468.1 736.0,468.6 740.9,469.1 745.7,470.3 750.5,469.9 755.4,470.0 760.2,469.9 765.1,470.5 769.9,470.5 774.8,470.5 779.6,470.3 784.5,470.5"/>
<polyline points="202.5,470.5 207.3,469.7 212.2,469.1 217.1,467.3 221.9,466.4 226.8,459.0 231.6,450.4 236.4,441.5 241.3,426.8 246.2,413.8 251.0,397.0 255.8,383.5 260.7,367.7 265.6,351.1 270.4,329.1 275.2,316.8 277.7,307.7 280.1,319.3 284.9,327.6 287.4,332.8 289.8,335.6 294.6,355.5 297.6,362.2 299.5,364.6 304.4,367.9 307.7,368.3 314.1,381.9 320.4,389.2 323.8,392.2 328.6,397.4 333.4,399.7 335.4,401.5 338.3,404.4 343.1,405.4 348.0,410.6 350.4,414.6 352.9,414.8 357.7,413.9 362.5,417.1 365.5,416.8 367.4,417.6 372.2,420.2 375.2,421.1 377.1,421.9 381.9,423.9 386.8,426.8 391.6,427.5 396.5,429.5 401.4,432.4 406.2,432.1 411.0,434.5 415.9,436.8 420.8,438.3 425.6,437.9 430.4,439.5 435.3,441.3 440.1,443.5 445.0,444.2 449.9,443.9 454.7,445.5 459.6,446.5 464.4,446.4 469.2,447.3 474.1,448.1 478.9,448.4 483.8,449.3 488.6,449.8 493.5,450.5 498.3,450.5 503.2,451.3 508.1,451.2 512.9,452.2 517.8,451.6 522.6,452.8 527.5,452.6 532.3,453.3 537.1,454.3 542.0,453.6 546.8,454.1 551.7,454.4 556.5,454.6 561.4,455.2 566.2,455.1 571.1,454.7 576.0,455.1 580.8,455.5 585.6,456.3 590.5,456.0 595.3,455.4 600.2,455.6 605.0,455.6 609.9,455.3 614.8,455.0 619.6,455.3 624.5,455.3 629.3,455.2 634.1,454.6 639.0,455.1 643.8,454.8 648.7,454.2 653.5,453.2 658.4,451.8 663.2,450.8 668.1,450.6 673.0,449.6 677.8,448.0 682.6,449.6 687.5,452.1 692.3,453.3 697.2,454.0 702.0,455.9 706.9,457.6 711.8,458.9 716.6,459.0 721.4,460.6 726.3,461.6 731.1,463.2 736.0,464.1 740.9,465.5 745.7,466.8 750.5,467.3 755.4,468.1 760.2,468.2 765.1,468.9 769.9,469.1 774.8,469.5 779.6,470.0 784.5,470.5"/>
<polyline points="202.5,469.8 207.3,459.1 212.2,449.5 217.1,443.3 221.9,439.8 226.8,432.5 231.6,425.3 236.4,418.7 241.3,414.4 246.2,411.5 251.0,410.6 255.8,407.1 260.7,406.0 265.6,403.6 270.4,404.3 275.2,411.3 280.1,414.3 284.9,414.2 289.8,415.8 294.6,419.9 299.5,421.7 304.4,420.4 309.2,423.8 314.1,429.1 318.9,426.8 323.8,429.8 328.6,431.2 333.4,431.4 338.3,432.5 343.1,430.9 348.0,434.0 352.9,436.7 357.7,436.5 362.5,435.0 367.4,433.9 372.2,434.7 377.1,434.4 381.9,434.7 386.8,434.4 391.6,432.8 396.5,433.7 401.4,430.5 406.2,430.7 411.0,431.0 415.9,431.7 420.8,431.7 425.6,433.2 430.4,433.2 435.3,435.8 440.1,437.1 445.0,437.4 449.9,438.3 454.7,441.6 459.6,440.6 464.4,442.1 469.2,440.5 474.1,443.3 478.9,440.7 483.8,442.7 488.6,441.5 493.5,443.6 498.3,443.6 503.2,443.5 508.1,444.5 512.9,445.0 517.8,444.2 522.6,443.9 527.5,444.6 532.3,445.0 537.1,447.3 542.0,445.4 546.8,448.0 551.7,444.7 556.5,444.5 561.4,446.5 566.2,444.8 571.1,445.4 576.0,444.2 580.8,445.9 585.6,445.8 590.5,445.5 595.3,445.8 600.2,447.5 605.0,444.5 609.9,446.2 614.8,444.3 619.6,446.5 624.5,447.7 629.3,448.9 634.1,449.9 639.0,450.1 643.8,450.9 648.7,452.0 653.5,453.5 658.4,453.5 663.2,455.1 668.1,456.8 673.0,456.4 677.8,458.4 682.6,458.5 687.5,459.3 692.3,461.1 697.2,461.3 702.0,462.4 706.9,463.7 711.8,464.3 716.6,465.8 721.4,465.9 726.3,466.2 731.1,468.2 736.0,468.0 740.9,468.5 745.7,468.9 750.5,469.1 755.4,469.4 760.2,469.9 765.1,469.6 769.9,470.0 774.8,470.1 779.6,470.3 784.5,470.5"/>
<polyline points="202.5,470.5 207.3,469.6 212.2,469.3 217.1,468.0 221.9,468.3 226.8,461.1 233.1,451.6 236.4,424.7 241.3,390.0 246.2,353.5 249.5,321.2 255.8,344.2 260.7,349.3 262.6,355.4 265.6,361.5 270.4,372.0 275.2,372.6 277.2,381.7 280.1,381.7 284.9,380.0 289.8,386.1 294.6,385.2 299.5,388.7 304.4,392.1 309.2,396.7 314.1,399.9 318.9,401.7 323.8,406.9 328.6,407.8 333.4,411.1 338.3,413.1 343.1,417.1 348.0,419.6 352.9,421.4 357.7,422.7 362.5,425.2 367.4,426.4 372.2,429.0 377.1,431.1 381.9,431.9 386.8,433.1 391.6,435.7 396.5,438.2 401.4,438.4 406.2,439.2 411.0,439.9 415.9,442.0 420.8,443.4 425.6,444.3 430.4,444.4 435.3,446.3 440.1,447.4 445.0,449.3 449.9,449.1 454.7,449.3 459.6,450.9 464.4,450.8 469.2,450.8 474.1,450.9 478.9,451.9 483.8,452.7 488.6,452.6 493.5,453.9 498.3,454.0 503.2,454.7 508.1,453.8 512.9,455.7 517.8,455.5 522.6,455.5 527.5,455.6 532.3,456.1 537.1,457.3 542.0,457.5 546.8,457.4 551.7,457.5 556.5,457.5 561.4,457.6 566.2,457.3 571.1,457.5 576.0,458.4 580.8,457.8 585.6,457.5 590.5,458.4 595.3,458.4 600.2,458.2 605.0,458.1 609.9,458.4 614.8,457.8 619.6,457.2 624.5,456.8 629.3,457.5 634.1,457.4 639.0,457.0 643.8,456.8 648.7,456.0 653.5,455.2 658.4,454.0 663.2,453.9 668.1,452.5 673.0,451.6 677.8,450.7 682.6,452.3 687.5,454.2 692.3,455.0 697.2,456.6 702.0,458.9 706.9,459.8 711.8,460.9 716.6,461.6 721.4,462.8 726.3,464.4 731.1,465.1 736.0,466.1 740.9,467.0 745.7,467.8 750.5,468.5 755.4,469.1 760.2,468.9 765.1,469.0 769.9,470.0 774.8,470.3 779.6,470.3 784.5,470.5"/>
<polyline points="202.5,470.5 207.3,469.1 212.2,468.3 217.1,466.8 221.9,465.7 226.8,455.5 231.6,446.6 234.0,442.3 236.4,426.5 241.3,400.3 243.7,381.5 246.2,374.4 251.0,352.6 253.4,339.2 255.8,344.6 260.7,355.1 265.6,370.3 270.4,374.5 275.2,377.7 280.1,383.8 284.9,388.6 289.8,392.0 294.6,398.6 299.5,402.3 304.4,404.7 309.2,408.4 314.1,412.0 318.9,414.1 323.8,417.3 328.6,418.7 333.4,422.3 338.3,422.9 343.1,423.7 348.0,428.1 352.9,428.5 357.7,430.0 362.5,430.5 367.4,434.4 372.2,433.5 377.1,435.3 381.9,437.0 386.8,438.8 391.6,439.7 396.5,441.5 401.4,442.3 406.2,443.4 411.0,445.0 415.9,445.4 420.8,445.9 425.6,447.1 430.4,448.8 435.3,449.0 440.1,449.2 445.0,450.7 449.9,451.4 454.7,452.3 459.6,452.2 464.4,453.3 469.2,453.6 474.1,453.3 478.9,454.2 483.8,455.6 488.6,455.6 493.5,456.0 498.3,455.7 503.2,456.5 508.1,456.6 512.9,456.9 517.8,457.7 522.6,457.9 527.5,457.9 532.3,458.3 537.1,458.4 542.0,458.4 546.8,459.1 551.7,459.0 556.5,458.6 561.4,459.3 566.2,459.2 571.1,459.3 576.0,459.3 580.8,460.2 585.6,459.6 590.5,459.7 595.3,459.9 600.2,460.0 605.0,459.8 609.9,459.0 614.8,459.2 619.6,458.9 624.5,459.2 629.3,459.3 634.1,458.3 639.0,458.0 643.8,457.3 648.7,457.3 653.5,456.8 658.4,455.7 663.2,455.0 668.1,453.7 673.0,453.4 677.8,452.3 682.6,453.7 687.5,455.3 692.3,456.4 697.2,457.9 702.0,459.3 706.9,460.9 711.8,461.7 716.6,462.9 721.4,463.8 726.3,465.0 731.1,465.9 736.0,466.5 740.9,467.7 745.7,468.7 750.5,468.9 755.4,469.5 760.2,469.0 765.1,469.9 769.9,470.1 774.8,469.8 779.6,470.5 784.5,470.5"/>
<polyline points="202.5,470.2 207.3,461.1 212.2,454.1 217.1,449.2 221.9,441.9 226.8,436.7 231.6,428.6 236.4,422.3 241.3,415.0 246.2,410.8 251.0,406.3 255.8,408.8 260.7,408.3 265.6,409.7 270.4,409.0 275.2,410.5 280.1,413.7 284.9,417.8 289.8,420.3 294.6,421.5 299.5,424.5 304.4,427.7 309.2,430.1 314.1,430.8 318.9,431.3 323.8,433.7 328.6,438.6 333.4,440.1 338.3,442.1 343.1,444.0 348.0,444.6 352.9,443.3 357.7,445.3 362.5,446.7 367.4,446.7 372.2,447.4 377.1,447.1 381.9,445.7 386.8,447.9 391.6,447.2 396.5,446.0 401.4,446.6 406.2,448.0 411.0,446.5 415.9,447.7 420.8,447.2 425.6,448.5 430.4,447.4 435.3,446.4 440.1,448.4 445.0,450.1 449.9,450.8 454.7,450.4 459.6,450.2 464.4,452.1 469.2,452.1 474.1,453.7 478.9,452.9 483.8,452.9 488.6,453.9 493.5,453.2 498.3,453.1 503.2,454.1 508.1,454.9 512.9,454.0 517.8,455.5 522.6,455.4 527.5,455.5 532.3,456.6 537.1,455.2 542.0,455.6 546.8,457.3 551.7,457.2 556.5,457.2 561.4,457.7 566.2,457.9 571.1,458.5 576.0,457.9 580.8,458.7 585.6,458.0 590.5,458.0 595.3,457.5 600.2,458.2 605.0,458.7 609.9,457.7 614.8,457.0 619.6,456.9 624.5,456.5 629.3,455.4 634.1,454.7 639.0,454.0 643.8,452.3 648.7,451.6 653.5,448.2 658.4,447.3 663.2,446.2 668.1,445.2 673.0,446.0 677.8,445.4 682.6,447.1 687.5,448.4 692.3,449.2 697.2,450.6 702.0,451.7 706.9,455.6 711.8,457.0 716.6,458.3 721.4,459.9 726.3,461.7 731.1,464.2 736.0,464.8 740.9,467.3 745.7,467.4 750.5,467.8 755.4,468.4 760.2,469.7 765.1,469.8 769.9,470.5 774.8,470.4 779.6,470.5 784.5,470.5"/>
<polyline points="202.5,469.3 207.3,469.4 212.2,468.9 217.1,467.1 221.9,464.4 226.8,459.3 231.6,456.9 236.4,449.4 241.3,442.0 246.2,433.3 251.0,424.7 255.8,418.4 260.7,406.6 265.6,402.5 270.4,394.4 275.2,389.8 280.1,385.5 284.9,392.6 289.8,398.3 294.6,405.7 299.5,416.6 304.4,420.9 309.2,428.8 314.1,435.4 318.9,438.1 323.8,440.5 328.6,441.9 333.4,443.9 338.3,446.1 343.1,446.8 348.0,446.1 352.9,445.8 357.7,446.8 362.5,449.4 367.4,449.4 372.2,449.6 377.1,449.2 381.9,451.2 386.8,450.4 391.6,449.8 396.5,452.7 401.4,452.8 406.2,453.6 411.0,453.8 415.9,454.8 420.8,456.5 425.6,455.8 430.4,456.7 435.3,457.2 440.1,458.9 445.0,458.2 449.9,458.7 454.7,458.5 459.6,459.9 464.4,459.7 469.2,459.5 474.1,459.3 478.9,459.9 483.8,460.1 488.6,460.6 493.5,460.4 498.3,460.5 503.2,461.3 508.1,461.4 512.9,461.3 517.8,461.0 522.6,462.4 527.5,461.9 532.3,462.0 537.1,462.7 542.0,463.2 546.8,462.3 551.7,463.2 556.5,462.6 561.4,462.7 566.2,462.2 571.1,463.5 576.0,462.7 580.8,463.6 585.6,463.8 590.5,464.1 595.3,464.4 600.2,464.7 605.0,463.6 609.9,464.3 614.8,464.4 619.6,463.8 624.5,464.5 629.3,464.2 634.1,463.5 639.0,463.4 643.8,462.6 648.7,463.1 653.5,463.5 658.4,462.6 663.2,462.1 668.1,462.3 673.0,460.8 677.8,462.2 682.6,461.2 687.5,462.3 692.3,462.2 697.2,464.7 702.0,464.8 706.9,465.9 711.8,466.1 716.6,467.0 721.4,468.5 726.3,469.1 731.1,469.1 736.0,469.4 740.9,469.6 745.7,469.4 750.5,470.3 755.4,469.2 760.2,469.7 765.1,470.5 769.9,470.3 774.8,470.1 779.6,469.9 784.5,470.5"/>
<polyline points="202.5,469.6 207.3,469.0 212.2,467.9 217.1,467.3 221.9,464.6 226.8,462.8 231.6,458.8 236.4,454.4 241.3,450.4 246.2,445.1 251.0,443.0 255.8,438.4 260.7,439.0 265.6,437.9 270.4,435.5 275.2,437.0 280.1,437.2 284.9,438.5 289.8,439.8 294.6,442.4 299.5,442.0 304.4,442.3 309.2,445.1 314.1,444.4 318.9,445.4 323.8,447.3 328.6,447.8 333.4,449.4 338.3,449.7 343.1,451.0 348.0,451.2 352.9,451.8 357.7,451.2 362.5,452.2 367.4,451.0 372.2,452.1 377.1,451.1 381.9,448.9 386.8,450.2 391.6,450.1 396.5,450.1 401.4,448.3 406.2,446.9 411.0,446.9 415.9,444.0 420.8,442.8 425.6,440.2 430.4,439.9 435.3,438.1 440.1,436.3 445.0,435.7 449.9,437.3 454.7,437.4 459.6,436.8 464.4,435.7 469.2,434.5 474.1,435.6 478.9,432.5 483.8,436.9 488.6,435.4 493.5,436.8 498.3,437.5 503.2,437.5 508.1,436.8 512.9,436.6 517.8,441.2 522.6,436.4 527.5,437.0 532.3,437.7 537.1,438.1 542.0,439.7 546.8,439.4 551.7,439.1 556.5,441.9 561.4,440.7 566.2,441.6 571.1,442.4 576.0,442.4 580.8,444.7 585.6,445.5 590.5,445.6 595.3,447.7 600.2,446.7 605.0,448.9 609.9,449.3 614.8,449.2 619.6,449.7 624.5,451.2 629.3,451.0 634.1,453.7 639.0,452.0 643.8,454.0 648.7,454.7 653.5,454.4 658.4,454.9 663.2,456.1 668.1,456.4 673.0,455.3 677.8,457.7 682.6,458.1 687.5,458.2 692.3,460.0 697.2,461.1 702.0,462.0 706.9,463.6 711.8,464.6 716.6,465.1 721.4,466.7 726.3,466.5 731.1,468.0 736.0,468.1 740.9,468.6 745.7,468.3 750.5,468.9 755.4,468.8 760.2,468.6 765.1,468.7 769.9,470.0 774.8,469.4 779.6,470.2 784.5,470.5"/>
<polyline points="202.5,466.2 207.3,463.4 212.2,459.0 217.1,451.6 221.9,444.3 226.8,435.9 231.6,427.1 236.4,418.4 241.3,409.6 246.2,406.5 251.0,402.4 255.8,400.3 260.7,401.7 265.6,401.1 270.4,405.6 275.2,408.9 280.1,417.0 284.9,418.2 289.8,418.5 294.6,420.2 299.5,423.8 304.4,426.2 309.2,429.0 314.1,430.6 318.9,432.1 323.8,433.1 328.6,431.7 333.4,436.0 338.3,436.1 343.1,435.0 348.0,437.3 352.9,436.7 357.7,433.6 362.5,434.3 367.4,434.9 372.2,434.8 377.1,436.7 381.9,435.1 386.8,437.7 391.6,438.9 396.5,437.7 401.4,438.4 406.2,440.6 411.0,442.5 415.9,444.9 420.8,446.5 425.6,446.1 430.4,447.3 435.3,449.5 440.1,448.8 445.0,451.8 449.9,452.5 454.7,452.8 459.6,452.2 464.4,453.2 469.2,452.3 474.1,453.9 478.9,453.9 483.8,454.1 488.6,455.0 493.5,455.0 498.3,455.2 503.2,455.8 508.1,455.9 512.9,456.1 517.8,456.6 522.6,457.5 527.5,455.9 532.3,455.9 537.1,456.9 542.0,456.1 546.8,456.8 551.7,456.2 556.5,456.9 561.4,458.1 566.2,458.0 571.1,457.8 576.0,458.1 580.8,458.5 585.6,459.1 590.5,459.8 595.3,459.5 600.2,460.2 605.0,459.7 609.9,459.1 614.8,458.5 619.6,457.5 624.5,456.9 629.3,456.2 634.1,454.9 639.0,454.2 643.8,452.2 648.7,451.2 653.5,449.8 658.4,449.0 663.2,447.1 668.1,447.1 673.0,444.5 677.8,444.9 682.6,445.0 687.5,444.4 692.3,445.1 697.2,446.5 702.0,447.0 706.9,450.8 711.8,450.7 716.6,454.4 721.4,455.5 726.3,456.8 731.1,457.7 736.0,460.0 740.9,461.1 745.7,462.6 750.5,464.4 755.4,465.0 760.2,464.6 765.1,465.7 769.9,468.1 774.8,468.8 779.6,469.6 784.5,470.5"/>
<polyline points="202.5,470.5 207.3,468.1 212.2,465.9 217.1,463.1 221.9,462.0 226.8,460.9 231.6,459.6 236.4,458.5 241.3,457.2 246.2,457.2 251.0,456.1 255.8,456.0 260.7,456.3 265.6,455.7 270.4,454.7 275.2,455.3 280.1,453.9 284.9,453.4 289.8,454.4 294.6,454.5 299.5,454.1 304.4,455.2 309.2,454.1 314.1,454.3 318.9,454.7 323.8,454.6 328.6,454.6 333.4,454.1 338.3,454.1 343.1,454.0 348.0,453.5 352.9,455.7 357.7,453.8 362.5,453.6 367.4,454.7 372.2,454.9 377.1,453.8 381.9,455.1 386.8,455.0 391.6,453.7 396.5,454.9 401.4,454.4 406.2,455.0 411.0,455.4 415.9,455.3 420.8,454.6 425.6,455.2 430.4,455.2 435.3,456.3 440.1,455.1 445.0,439.5 449.9,441.7 454.7,442.9 459.6,444.6 464.4,446.1 469.2,446.9 474.1,447.6 478.9,447.7 483.8,447.5 488.6,448.1 493.5,448.4 498.3,448.1 503.2,449.5 508.1,449.2 512.9,450.1 517.8,450.4 522.6,450.2 527.5,449.5 532.3,451.4 537.1,451.6 542.0,453.7 546.8,452.4 551.7,451.8 556.5,453.0 561.4,453.8 566.2,453.7 571.1,454.9 576.0,453.8 580.8,453.5 585.6,453.6 590.5,454.0 595.3,454.6 600.2,454.0 605.0,454.8 609.9,452.9 614.8,453.8 619.6,455.3 624.5,456.1 629.3,457.1 634.1,456.7 639.0,457.3 643.8,457.5 648.7,457.5 653.5,458.3 658.4,458.8 663.2,459.6 668.1,458.8 673.0,459.5 677.8,458.9 682.6,459.8 687.5,460.8 692.3,462.0 697.2,463.4 702.0,462.5 706.9,465.8 711.8,465.3 716.6,465.8 721.4,466.7 726.3,468.0 731.1,468.6 736.0,469.4 740.9,469.4 745.7,469.9 750.5,470.5 755.4,470.5 760.2,469.8 765.1,470.5 769.9,470.5 774.8,469.9 779.6,470.5 784.5,470.5"/>
<polyline points="202.5,470.0 207.3,464.0 212.2,461.7 217.1,458.3 221.9,456.3 226.8,453.9 231.6,451.4 236.4,448.8 241.3,446.5 246.2,445.2 251.0,447.1 255.8,447.0 260.7,445.7 265.6,445.2 270.4,445.0 275.2,445.6 280.1,447.7 284.9,448.7 289.8,447.4 294.6,450.3 299.5,451.7 304.4,453.1 309.2,452.8 314.1,453.8 318.9,455.1 323.8,454.5 328.6,455.9 333.4,455.7 338.3,455.7 343.1,456.6 348.0,455.9 352.9,457.6 357.7,456.2 362.5,457.5 367.4,457.4 372.2,457.3 377.1,456.6 381.9,456.9 386.8,457.3 391.6,457.2 396.5,456.4 401.4,455.7 406.2,457.1 411.0,455.9 415.9,456.8 420.8,456.5 425.6,457.6 430.4,457.8 435.3,458.0 440.1,460.2 445.0,459.5 449.9,459.7 454.7,460.6 459.6,459.9 464.4,459.8 469.2,460.6 474.1,460.3 478.9,459.4 483.8,460.3 488.6,460.0 493.5,459.7 498.3,459.5 503.2,460.1 508.1,460.2 512.9,460.3 517.8,460.2 522.6,459.9 527.5,460.8 532.3,460.7 537.1,460.2 542.0,461.3 546.8,461.0 551.7,461.0 556.5,460.7 561.4,461.3 566.2,461.4 571.1,461.0 576.0,460.4 580.8,461.4 585.6,460.9 590.5,461.5 595.3,459.9 600.2,461.8 605.0,461.1 609.9,460.9 614.8,461.6 619.6,461.8 624.5,460.5 629.3,461.7 634.1,461.3 639.0,461.3 643.8,461.0 648.7,460.7 653.5,459.7 658.4,458.6 663.2,458.4 668.1,457.5 673.0,457.7 677.8,456.6 682.6,455.3 687.5,455.2 692.3,454.9 697.2,456.3 702.0,456.5 706.9,456.9 711.8,457.5 716.6,458.2 721.4,459.5 726.3,460.2 731.1,461.9 736.0,462.7 740.9,463.9 745.7,464.2 750.5,465.3 755.4,466.0 760.2,467.1 765.1,468.1 769.9,469.0 774.8,469.1 779.6,470.2 784.5,470.5"/>
<polyline points="202.5,470.0 207.3,470.1 212.2,469.7 217.1,469.4 221.9,468.7 226.8,468.3 231.6,466.8 236.4,463.3 241.3,459.1 246.2,455.5 251.0,448.8 255.8,444.5 260.7,439.9 265.6,435.2 270.4,431.9 275.2,431.5 280.1,428.9 284.9,431.2 289.8,429.3 294.6,431.7 299.5,433.5 304.4,435.5 309.2,436.2 314.1,437.8 318.9,438.0 323.8,440.3 328.6,440.5 333.4,441.2 338.3,440.6 343.1,442.7 348.0,442.4 352.9,442.3 357.7,441.7 362.5,442.8 367.4,440.7 372.2,440.6 377.1,441.4 381.9,439.4 386.8,439.5 391.6,441.5 396.5,440.7 401.4,439.1 406.2,438.5 411.0,441.9 415.9,441.5 420.8,441.5 425.6,442.7 430.4,443.1 435.3,444.7 440.1,447.5 445.0,447.7 449.9,447.7 454.7,448.6 459.6,447.8 464.4,447.5 469.2,447.8 474.1,447.8 478.9,448.1 483.8,446.8 488.6,448.1 493.5,446.2 498.3,448.3 503.2,447.8 508.1,448.1 512.9,449.2 517.8,450.2 522.6,451.1 527.5,451.4 532.3,451.6 537.1,452.0 542.0,454.6 546.8,453.2 551.7,453.4 556.5,453.2 561.4,452.9 566.2,454.6 571.1,454.5 576.0,453.9 580.8,454.0 585.6,454.5 590.5,455.0 595.3,455.5 600.2,453.9 605.0,454.9 609.9,454.0 614.8,452.8 619.6,454.4 624.5,453.9 629.3,453.1 634.1,454.3 639.0,454.0 643.8,454.1 648.7,453.9 653.5,454.2 658.4,456.3 663.2,455.4 668.1,456.1 673.0,458.7 677.8,458.3 682.6,459.1 687.5,460.2 692.3,460.9 697.2,461.6 702.0,462.7 706.9,463.2 711.8,464.6 716.6,466.1 721.4,467.1 726.3,467.0 731.1,468.7 736.0,468.7 740.9,469.1 745.7,469.5 750.5,469.0 755.4,469.6 760.2,469.9 765.1,469.7 769.9,470.3 774.8,470.0 779.6,470.1 784.5,470.5"/>
<polyline points="202.5,468.1 207.3,459.0 212.2,453.0 217.1,445.9 221.9,441.1 226.8,436.9 231.6,430.2 236.4,426.0 241.3,424.8 246.2,422.4 251.0,422.1 255.8,422.6 260.7,424.1 265.6,427.7 270.4,430.1 275.2,429.7 280.1,434.1 284.9,434.1 289.8,438.5 294.6,439.1 299.5,441.0 304.4,441.5 309.2,443.3 314.1,445.5 318.9,443.9 323.8,447.8 328.6,447.2 333.4,449.1 338.3,449.0 343.1,449.2 348.0,449.2 352.9,449.3 357.7,450.0 362.5,451.0 367.4,450.6 372.2,450.4 377.1,449.9 381.9,450.2 386.8,452.3 391.6,451.7 396.5,452.2 401.4,452.2 406.2,452.4 411.0,453.3 415.9,453.7 420.8,454.5 425.6,454.6 430.4,455.8 435.3,456.2 440.1,456.8 445.0,457.7 449.9,458.5 454.7,457.6 459.6,459.0 464.4,459.1 469.2,458.7 474.1,458.5 478.9,460.1 483.8,460.4 488.6,460.2 493.5,459.7 498.3,459.7 503.2,460.0 508.1,459.6 512.9,460.3 517.8,460.0 522.6,459.9 527.5,460.1 532.3,461.0 537.1,460.2 542.0,460.1 546.8,459.4 551.7,460.6 556.5,460.8 561.4,461.2 566.2,461.2 571.1,461.5 576.0,462.3 580.8,461.7 585.6,462.8 590.5,462.6 595.3,463.2 600.2,463.8 605.0,463.3 609.9,463.0 614.8,462.6 619.6,462.9 624.5,463.5 629.3,464.0 634.1,464.8 639.0,464.1 643.8,463.7 648.7,463.7 653.5,462.6 658.4,463.0 663.2,463.8 668.1,462.9 673.0,463.4 677.8,463.3 682.6,464.5 687.5,464.2 692.3,465.3 697.2,465.5 702.0,465.6 706.9,466.1 711.8,466.9 716.6,467.3 721.4,468.4 726.3,468.6 731.1,468.6 736.0,469.7 740.9,469.7 745.7,470.1 750.5,469.8 755.4,469.7 760.2,470.0 765.1,470.3 769.9,470.5 774.8,470.5 779.6,470.5 784.5,470.5"/>
<polyline points="202.5,468.7 207.3,468.9 212.2,468.6 217.1,467.9 221.9,465.0 226.8,460.6 231.6,455.1 236.4,447.7 241.3,436.8 246.2,430.2 251.0,420.6 255.8,413.9 260.7,403.5 265.6,400.6 270.4,395.7 275.2,396.1 280.1,389.8 284.9,390.7 289.8,398.6 294.6,402.4 299.5,407.1 304.4,410.7 309.2,414.8 314.1,417.3 318.9,417.7 323.8,423.6 328.6,424.6 333.4,423.9 338.3,427.4 343.1,424.2 348.0,427.2 352.9,427.4 357.7,426.6 362.5,427.3 367.4,427.4 372.2,429.1 377.1,427.6 381.9,429.5 386.8,431.9 391.6,431.9 396.5,433.3 401.4,435.3 406.2,438.2 411.0,438.2 415.9,439.6 420.8,442.3 425.6,445.4 430.4,446.1 435.3,446.9 440.1,447.8 445.0,449.3 449.9,450.6 454.7,450.8 459.6,451.3 464.4,451.4 469.2,452.3 474.1,453.7 478.9,452.5 483.8,454.3 488.6,453.0 493.5,452.9 498.3,454.7 503.2,455.2 508.1,456.4 512.9,456.6 517.8,456.9 522.6,456.8 527.5,457.4 532.3,458.8 537.1,458.1 542.0,458.4 546.8,458.2 551.7,459.1 556.5,458.8 561.4,458.9 566.2,459.9 571.1,457.4 576.0,457.3 580.8,458.2 585.6,458.2 590.5,457.2 595.3,457.1 600.2,456.8 605.0,458.3 609.9,457.1 614.8,456.8 619.6,457.1 624.5,457.7 629.3,458.4 634.1,458.6 639.0,459.3 643.8,457.9 648.7,459.1 653.5,458.9 658.4,459.7 663.2,457.8 668.1,458.5 673.0,459.0 677.8,459.2 682.6,458.8 687.5,459.3 692.3,459.9 697.2,460.1 702.0,460.8 706.9,461.5 711.8,463.3 716.6,463.8 721.4,465.3 726.3,465.7 731.1,467.0 736.0,467.8 740.9,468.0 745.7,469.1 750.5,469.6 755.4,469.1 760.2,470.4 765.1,470.4 769.9,470.5 774.8,470.5 779.6,470.4 784.5,470.5"/>
<polyline points="202.5,469.1 207.3,469.4 212.2,469.3 217.1,468.6 221.9,468.5 226.8,467.0 231.6,464.9 236.4,460.7 241.3,454.5 246.2,447.9 251.0,440.0 255.8,433.7 260.7,426.1 265.6,421.6 270.4,416.5 275.2,415.3 280.1,414.7 284.9,411.1 289.8,411.4 294.6,415.0 299.5,415.3 304.4,416.6 309.2,424.8 314.1,418.3 318.9,422.9 323.8,425.6 328.6,428.9 333.4,431.6 338.3,425.8 343.1,431.7 348.0,431.5 352.9,434.9 357.7,435.3 362.5,435.0 367.4,436.0 372.2,434.8 377.1,435.3 381.9,434.3 386.8,434.6 391.6,436.3 396.5,435.4 401.4,437.9 406.2,437.6 411.0,438.6 415.9,439.4 420.8,440.8 425.6,445.2 430.4,446.0 435.3,448.1 440.1,446.5 445.0,448.9 449.9,450.2 454.7,451.1 459.6,451.7 464.4,451.5 469.2,450.3 474.1,450.6 478.9,450.7 483.8,451.7 488.6,451.2 493.5,451.4 498.3,451.5 503.2,452.1 508.1,452.2 512.9,452.5 517.8,453.3 522.6,454.0 527.5,454.2 532.3,454.9 537.1,455.5 542.0,455.9 546.8,455.4 551.7,455.7 556.5,456.2 561.4,456.6 566.2,457.4 571.1,457.1 576.0,457.0 580.8,456.0 585.6,456.2 590.5,457.3 595.3,456.9 600.2,455.6 605.0,455.5 609.9,454.6 614.8,452.9 619.6,455.1 624.5,454.9 629.3,455.1 634.1,453.3 639.0,454.0 643.8,454.9 648.7,454.2 653.5,454.9 658.4,454.5 663.2,455.3 668.1,454.2 673.0,455.0 677.8,454.6 682.6,454.4 687.5,455.8 692.3,456.1 697.2,458.2 702.0,457.8 706.9,459.6 711.8,461.0 716.6,462.9 721.4,463.6 726.3,464.8 731.1,465.9 736.0,467.0 740.9,467.6 745.7,468.5 750.5,468.5 755.4,468.8 760.2,469.7 765.1,469.4 769.9,470.0 774.8,470.4 779.6,470.3 784.5,470.5"/>
<polyline points="202.5,469.5 207.3,461.2 212.2,451.6 217.1,444.2 221.9,438.8 226.8,429.8 231.6,420.6 236.4,417.3 241.3,403.0 246.2,395.4 251.0,389.8 255.8,384.1 260.7,388.4 265.6,382.1 270.4,379.1 275.2,391.1 280.1,389.4 284.9,389.2 289.8,396.0 294.6,401.2 299.5,399.2 304.4,402.7 309.2,408.6 314.1,409.3 318.9,410.7 323.8,413.4 328.6,416.1 333.4,420.3 338.3,421.8 343.1,427.4 348.0,427.5 352.9,428.7 357.7,429.3 362.5,431.4 367.4,433.7 372.2,436.0 377.1,436.3 381.9,438.8 386.8,439.3 391.6,440.5 396.5,439.5 401.4,441.6 406.2,443.9 411.0,445.3 415.9,446.4 420.8,447.1 425.6,448.2 430.4,450.1 435.3,450.0 440.1,451.5 445.0,451.5 449.9,453.5 454.7,453.4 459.6,454.2 464.4,454.6 469.2,454.7 474.1,455.5 478.9,455.9 483.8,455.8 488.6,455.5 493.5,456.6 498.3,455.8 503.2,456.9 508.1,456.8 512.9,458.2 517.8,457.4 522.6,459.5 527.5,458.3 532.3,458.4 537.1,459.8 542.0,459.0 546.8,459.7 551.7,460.6 556.5,459.8 561.4,460.5 566.2,459.8 571.1,460.7 576.0,460.5 580.8,460.6 585.6,460.5 590.5,459.9 595.3,461.1 600.2,459.4 605.0,460.3 609.9,458.3 614.8,458.1 619.6,458.2 624.5,458.1 629.3,456.7 634.1,456.0 639.0,455.2 643.8,455.0 648.7,455.0 653.5,455.1 658.4,455.0 663.2,453.2 668.1,454.3 673.0,455.1 677.8,455.8 682.6,455.1 687.5,457.7 692.3,457.4 697.2,458.2 702.0,458.9 706.9,459.8 711.8,461.0 716.6,462.7 721.4,463.8 726.3,464.9 731.1,464.8 736.0,466.2 740.9,466.9 745.7,468.0 750.5,469.2 755.4,468.7 760.2,469.8 765.1,469.7 769.9,469.5 774.8,470.3 779.6,470.4 784.5,470.5"/>
<polyline points="202.5,469.7 207.3,469.2 212.2,467.4 217.1,464.8 221.9,462.3 226.8,459.3 231.6,455.0 236.4,451.2 241.3,447.8 246.2,445.7 251.0,443.0 255.8,439.5 260.7,440.8 265.6,438.7 270.4,439.4 275.2,440.6 280.1,441.8 284.9,443.9 289.8,444.0 294.6,444.8 299.5,444.4 304.4,444.8 309.2,446.7 314.1,446.4 318.9,447.3 323.8,448.1 328.6,448.4 333.4,449.3 338.3,448.6 343.1,450.3 348.0,447.6 352.9,449.3 357.7,448.8 362.5,448.4 367.4,446.8 372.2,449.8 377.1,447.7 381.9,448.3 386.8,446.8 391.6,446.3 396.5,446.9 401.4,444.4 406.2,445.2 411.0,446.0 415.9,445.7 420.8,446.5 425.6,446.7 430.4,448.3 435.3,448.1 440.1,449.5 445.0,449.3 449.9,448.9 454.7,449.9 459.6,449.3 464.4,450.8 469.2,452.1 474.1,452.9 478.9,452.6 483.8,451.8 488.6,451.9 493.5,453.3 498.3,454.8 503.2,453.2 508.1,454.5 512.9,454.4 517.8,454.1 522.6,454.2 527.5,453.0 532.3,453.1 537.1,455.3 542.0,454.5 546.8,453.1 551.7,454.4 556.5,455.1 561.4,455.4 566.2,455.1 571.1,454.7 576.0,454.7 580.8,455.7 585.6,456.7 590.5,455.2 595.3,455.2 600.2,456.6 605.0,455.8 609.9,455.1 614.8,454.3 619.6,453.5 624.5,453.3 629.3,455.1 634.1,453.9 639.0,453.8 643.8,452.1 648.7,452.2 653.5,451.2 658.4,449.8 663.2,449.6 668.1,450.8 673.0,450.7 677.8,450.9 682.6,451.3 687.5,451.4 692.3,453.2 697.2,454.3 702.0,455.9 706.9,456.6 711.8,457.4 716.6,459.9 721.4,460.5 726.3,463.5 731.1,462.9 736.0,464.4 740.9,465.1 745.7,466.3 750.5,466.5 755.4,467.2 760.2,468.2 765.1,468.7 769.9,470.1 774.8,469.6 779.6,470.1 784.5,470.5"/>
<polyline points="202.5,470.1 207.3,459.5 212.2,450.1 217.1,446.2 221.9,439.2 226.8,434.6 231.6,430.2 236.4,428.7 241.3,426.1 246.2,420.8 251.0,415.7 255.8,417.6 260.7,412.1 265.6,413.0 270.4,414.7 275.2,409.3 280.1,406.3 284.9,410.0 289.8,413.7 294.6,414.3 299.5,418.2 304.4,415.2 309.2,420.3 314.1,427.0 318.9,424.1 323.8,426.8 328.6,430.0 333.4,432.1 338.3,432.7 343.1,432.5 348.0,435.2 352.9,437.7 357.7,438.2 362.5,440.1 367.4,441.7 372.2,441.8 377.1,443.0 381.9,443.9 386.8,445.0 391.6,445.4 396.5,446.2 401.4,448.9 406.2,449.2 411.0,448.8 415.9,449.6 420.8,449.7 425.6,450.2 430.4,451.2 435.3,451.5 440.1,454.3 445.0,454.4 449.9,454.9 454.7,454.8 459.6,456.0 464.4,456.6 469.2,457.1 474.1,458.1 478.9,458.4 483.8,457.9 488.6,458.7 493.5,459.0 498.3,459.1 503.2,460.1 508.1,459.9 512.9,459.4 517.8,459.4 522.6,459.8 527.5,459.3 532.3,459.4 537.1,460.1 542.0,458.7 546.8,458.7 551.7,459.6 556.5,459.9 561.4,460.1 566.2,460.5 571.1,460.3 576.0,461.4 580.8,460.4 585.6,460.8 590.5,461.1 595.3,461.1 600.2,460.8 605.0,461.4 609.9,461.7 614.8,460.7 619.6,460.5 624.5,460.7 629.3,461.7 634.1,461.8 639.0,461.3 643.8,460.5 648.7,461.4 653.5,460.1 658.4,460.5 663.2,460.3 668.1,459.0 673.0,459.4 677.8,459.2 682.6,459.3 687.5,460.5 692.3,460.8 697.2,460.5 702.0,461.9 706.9,461.3 711.8,461.7 716.6,464.1 721.4,463.9 726.3,464.8 731.1,465.1 736.0,466.1 740.9,466.8 745.7,466.9 750.5,467.6 755.4,467.8 760.2,468.5 765.1,469.6 769.9,469.6 774.8,470.0 779.6,470.3 784.5,470.5"/>
<polyline points="202.5,468.7 207.3,466.8 212.2,464.8 217.1,460.1 221.9,453.2 226.8,445.6 231.6,434.8 236.4,424.3 241.3,416.3 246.2,408.4 251.0,396.7 255.8,391.7 260.7,389.8 265.6,387.7 270.4,391.7 275.2,392.8 280.1,395.6 284.9,404.2 289.8,400.8 294.6,402.8 299.5,408.7 304.4,410.3 309.2,411.6 314.1,412.5 318.9,416.8 323.8,419.3 328.6,419.7 333.4,421.4 338.3,424.6 343.1,424.7 348.0,426.0 352.9,425.7 357.7,428.5 362.5,427.6 367.4,426.9 372.2,426.9 377.1,423.3 381.9,427.1 386.8,425.1 391.6,427.1 396.5,426.2 401.4,425.3 406.2,427.7 411.0,431.1 415.9,432.2 420.8,431.3 425.6,433.1 430.4,435.7 435.3,437.0 440.1,440.6 445.0,444.2 449.9,443.9 454.7,444.2 459.6,444.5 464.4,445.6 469.2,447.6 474.1,447.4 478.9,448.2 483.8,447.5 488.6,448.0 493.5,448.4 498.3,449.3 503.2,450.4 508.1,451.0 512.9,450.5 517.8,451.8 522.6,452.8 527.5,453.3 532.3,451.7 537.1,452.5 542.0,451.9 546.8,453.1 551.7,452.9 556.5,453.7 561.4,452.7 566.2,454.4 571.1,454.8 576.0,453.8 580.8,453.7 585.6,455.1 590.5,453.7 595.3,453.7 600.2,453.5 605.0,454.1 609.9,452.7 614.8,452.1 619.6,452.7 624.5,453.6 629.3,452.6 634.1,454.4 639.0,451.5 643.8,449.9 648.7,449.1 653.5,448.6 658.4,447.3 663.2,446.3 668.1,447.2 673.0,447.0 677.8,448.5 682.6,449.4 687.5,448.8 692.3,449.9 697.2,452.4 702.0,453.9 706.9,454.0 711.8,455.4 716.6,457.1 721.4,458.3 726.3,460.1 731.1,460.9 736.0,462.5 740.9,463.2 745.7,465.1 750.5,465.5 755.4,465.9 760.2,466.8 765.1,466.8 769.9,468.2 774.8,469.1 779.6,470.1 784.5,470.5"/>
<polyline points="202.5,468.9 207.3,470.1 212.2,468.9 217.1,468.5 221.9,467.4 226.8,465.6 231.6,461.7 236.4,457.0 241.3,450.3 246.2,442.6 251.0,433.2 255.8,429.1 260.7,422.6 265.6,420.3 270.4,414.9 275.2,411.1 280.1,413.7 284.9,410.8 289.8,416.9 294.6,418.0 299.5,421.0 304.4,423.3 309.2,428.4 314.1,424.3 318.9,429.5 323.8,428.4 328.6,432.0 333.4,432.8 338.3,430.9 343.1,436.2 348.0,437.7 352.9,439.6 357.7,441.2 362.5,441.2 367.4,440.6 372.2,444.7 377.1,444.2 381.9,444.5 386.8,444.4 391.6,446.0 396.5,445.8 401.4,445.3 406.2,447.2 411.0,445.6 415.9,448.6 420.8,449.2 425.6,448.9 430.4,451.4 435.3,450.9 440.1,453.5 445.0,454.7 449.9,455.6 454.7,456.3 459.6,455.2 464.4,454.8 469.2,456.9 474.1,456.3 478.9,455.9 483.8,456.0 488.6,455.4 493.5,455.6 498.3,455.4 503.2,456.8 508.1,455.5 512.9,455.3 517.8,457.1 522.6,456.3 527.5,456.3 532.3,456.8 537.1,457.3 542.0,457.8 546.8,458.1 551.7,458.0 556.5,458.6 561.4,460.0 566.2,460.4 571.1,460.2 576.0,460.2 580.8,461.1 585.6,460.8 590.5,461.2 595.3,461.8 600.2,460.8 605.0,461.4 609.9,460.6 614.8,460.9 619.6,461.1 624.5,461.1 629.3,460.2 634.1,460.5 639.0,460.2 643.8,460.7 648.7,460.8 653.5,460.9 658.4,461.8 663.2,461.6 668.1,461.8 673.0,461.3 677.8,462.7 682.6,463.0 687.5,463.4 692.3,463.8 697.2,465.0 702.0,465.2 706.9,465.6 711.8,466.3 716.6,466.0 721.4,467.7 726.3,468.0 731.1,468.6 736.0,468.6 740.9,468.5 745.7,469.0 750.5,469.7 755.4,470.5 760.2,470.0 765.1,470.5 769.9,470.5 774.8,470.5 779.6,470.5 784.5,470.5"/></g>
<polyline class="med" points="202.5,469.5 215.0,469.0 225.0,464.2 232.6,453.0 240.0,440.4 250.0,427.8 257.6,419.0 264.0,415.3 270.0,414.8 278.2,412.0 285.2,419.8 292.7,423.6 300.2,425.8 306.5,425.8 315.3,431.6 325.3,434.6 336.6,434.6 345.4,439.0 355.4,440.9 366.7,439.0 375.4,442.0 388.0,443.6 400.0,444.4 412.5,446.4 425.0,449.0 437.6,452.2 450.0,454.0 462.7,454.7 475.0,456.0 492.7,455.2 507.8,457.2 525.0,457.2 540.0,458.2 555.0,459.0 575.0,459.5 600.0,460.2 623.0,459.5 638.0,459.0 660.6,458.5 670.0,456.3 678.0,454.0 685.7,456.5 705.8,461.5 715.8,467.7 728.0,469.2 758.0,469.6"/>
<line class="v" x1="250" y1="277.6" x2="250" y2="470.5"/>
<line class="v v2" x1="297.8" y1="277.6" x2="297.8" y2="470.5" stroke-dasharray="7.2 2.07" stroke-dashoffset="3.3"/>
<line class="v v3" x1="443.9" y1="277.6" x2="443.9" y2="470.5" stroke-dasharray="4.55 1.3" stroke-dashoffset="2.5"/>
<line class="v" x1="638.1" y1="277.6" x2="638.1" y2="470.5" stroke-dasharray="18.1 1.3" stroke-dashoffset="9.5"/>
<path class="ay" d="M202.25,277.80V470.50"/>
<path class="ax" d="M195.6,278.30H202.5"/>
<path class="ax" d="M202.50,470.50v6.3"/>
<path class="ax" d="M195.6,470.50H784.5V476.80"/>
<path class="ax" d="M195.6,422.45H202.50"/>
<path class="ax" d="M195.6,374.40H202.50"/>
<path class="ax" d="M195.6,326.35H202.50"/>
<path class="ax" d="M299.50,470.50v6.3"/>
<path class="ax" d="M396.50,470.50v6.3"/>
<path class="ax" d="M493.50,470.50v6.3"/>
<path class="ax" d="M590.50,470.50v6.3"/>
<path class="ax" d="M687.50,470.50v6.3"/>
<text class="t" x="188.9" y="475.5" text-anchor="end">0</text>
<text class="t" x="188.9" y="427.4" text-anchor="end">100</text>
<text class="t" x="188.9" y="379.4" text-anchor="end">200</text>
<text class="t" x="188.9" y="331.4" text-anchor="end">300</text>
<text class="t" x="188.9" y="283.3" text-anchor="end">400</text>
<text class="t" x="202.5" y="497.7" text-anchor="middle">–1,000</text>
<text class="t" x="299.5" y="497.7" text-anchor="middle">–800</text>
<text class="t" x="396.5" y="497.7" text-anchor="middle">–600</text>
<text class="t" x="493.5" y="497.7" text-anchor="middle">–400</text>
<text class="t" x="590.5" y="497.7" text-anchor="middle">–200</text>
<text class="t" x="687.5" y="497.7" text-anchor="middle">0</text>
<text class="t" x="784.5" y="497.7" text-anchor="middle">200</text>
<text class="b" transform="translate(152.3,373.8) rotate(-90)" text-anchor="middle" style="font-size:15.85px">Volume (mL)</text>
<g class="ind"><polyline points="202.5,740.1 207.3,729.8 212.2,722.2 217.1,711.8 221.9,704.9 226.8,695.2 231.6,685.7 236.4,677.5 241.3,670.7 246.2,662.8 251.0,658.0 255.8,649.7 260.7,646.9 265.6,646.8 270.4,649.3 275.2,646.6 280.1,651.1 284.9,650.5 289.8,653.3 294.6,653.0 299.5,654.8 304.4,654.6 309.2,656.7 314.1,661.7 318.9,666.5 323.8,664.2 328.6,666.1 333.4,672.0 338.3,675.1 343.1,677.2 348.0,676.7 352.9,684.3 357.7,688.2 362.5,690.0 367.4,696.1 372.2,700.3 377.1,702.0 381.9,704.3 386.8,707.5 391.6,709.5 396.5,712.6 401.4,710.8 406.2,714.9 411.0,713.3 415.9,716.4 420.8,717.4 425.6,718.2 430.4,720.3 435.3,722.3 440.1,722.6 445.0,722.5 449.9,725.3 454.7,724.6 459.6,727.0 464.4,725.9 469.2,725.5 474.1,725.5 478.9,726.5 483.8,726.4 488.6,726.3 493.5,726.6 498.3,728.8 503.2,728.5 508.1,728.8 512.9,730.6 517.8,731.3 522.6,732.3 527.5,732.4 532.3,733.1 537.1,734.1 542.0,734.7 546.8,735.4 551.7,735.0 556.5,734.7 561.4,734.4 566.2,735.4 571.1,735.0 576.0,735.1 580.8,735.3 585.6,735.6 590.5,735.2 595.3,735.1 600.2,736.2 605.0,735.5 609.9,735.2 614.8,736.2 619.6,736.0 624.5,735.2 629.3,735.1 634.1,736.0 639.0,735.3 643.8,735.7 648.7,736.5 653.5,736.9 658.4,736.0 663.2,735.9 668.1,735.3 673.0,734.6 677.8,734.8 682.6,735.2 687.5,735.3 692.3,733.9 697.2,736.2 702.0,736.6 706.9,736.3 711.8,737.2 716.6,738.3 721.4,739.0 726.3,738.1 731.1,738.7 736.0,740.4 740.9,740.4 745.7,739.5 750.5,739.2 755.4,740.5 760.2,740.2 765.1,741.3 769.9,741.5 774.8,741.4 779.6,741.3 784.5,741.5"/>
<polyline points="202.5,732.0 207.3,723.4 212.2,715.8 217.1,706.1 221.9,698.1 226.8,680.4 231.6,662.8 236.4,645.1 241.3,630.4 246.2,601.1 249.5,583.7 255.8,601.7 260.7,612.3 265.6,615.1 270.4,619.8 275.2,620.6 277.7,615.8 280.1,615.7 284.9,615.7 289.8,623.8 294.6,625.2 299.5,627.4 304.4,627.1 307.7,624.0 314.1,635.5 320.4,644.5 323.8,650.4 328.6,650.1 333.4,660.0 338.3,659.0 343.1,663.9 348.0,669.5 352.9,673.2 357.7,673.5 362.5,677.0 367.4,677.8 372.2,685.0 377.1,683.2 381.9,687.9 386.8,687.7 391.6,689.6 396.5,690.8 401.4,694.2 406.2,696.3 411.0,699.1 415.9,699.5 420.8,701.1 425.6,703.7 430.4,706.1 435.3,707.0 440.1,709.4 445.0,711.4 449.9,714.3 454.7,714.4 459.6,716.3 464.4,718.2 469.2,718.3 474.1,719.3 478.9,720.6 483.8,722.2 488.6,723.5 493.5,724.6 498.3,725.5 503.2,726.6 508.1,727.2 512.9,726.8 517.8,728.0 522.6,727.9 527.5,729.0 532.3,729.5 537.1,730.2 542.0,730.8 546.8,731.0 551.7,731.3 556.5,731.5 561.4,732.1 566.2,732.7 571.1,732.8 576.0,732.9 580.8,734.0 585.6,734.1 590.5,734.0 595.3,733.9 600.2,734.2 605.0,734.3 609.9,735.1 614.8,734.9 619.6,734.6 624.5,734.7 629.3,734.5 634.1,734.7 639.0,734.8 643.8,734.5 648.7,734.1 653.5,733.5 658.4,733.3 663.2,733.0 668.1,732.9 673.0,732.8 677.8,732.9 682.6,732.7 687.5,731.7 692.3,732.3 697.2,733.4 702.0,734.3 706.9,735.4 711.8,736.5 716.6,736.9 721.4,737.0 726.3,738.0 731.1,737.4 736.0,738.1 740.9,738.3 745.7,738.5 750.5,738.7 755.4,739.5 760.2,739.6 765.1,739.9 769.9,740.5 774.8,740.7 779.6,741.4 784.5,741.5"/>
<polyline points="202.5,715.5 207.3,657.7 210.7,617.2 217.1,613.7 221.9,615.9 226.8,616.5 231.6,617.0 233.5,608.9 236.4,617.9 241.3,619.0 246.2,625.1 251.0,623.6 255.8,629.2 260.7,630.1 263.1,628.6 265.6,628.1 270.4,633.7 275.2,635.8 277.7,637.8 280.1,640.0 284.9,640.1 289.8,640.3 294.6,643.4 299.5,646.3 304.4,649.0 309.2,649.3 314.1,653.0 318.9,653.5 323.8,660.4 328.6,659.8 333.4,665.0 338.3,667.8 343.1,667.9 348.0,673.4 352.9,677.3 357.7,679.3 362.5,679.5 367.4,681.7 372.2,685.0 377.1,686.2 381.9,690.0 386.8,693.9 391.6,692.7 396.5,696.1 401.4,696.8 406.2,700.0 411.0,701.8 415.9,704.3 420.8,704.9 425.6,706.8 430.4,708.5 435.3,710.8 440.1,712.8 445.0,715.7 449.9,716.4 454.7,717.2 459.6,719.9 464.4,719.9 469.2,720.8 474.1,721.6 478.9,722.6 483.8,723.5 488.6,725.2 493.5,726.4 498.3,726.6 503.2,727.4 508.1,727.9 512.9,728.8 517.8,729.0 522.6,729.7 527.5,730.3 532.3,731.1 537.1,731.2 542.0,731.5 546.8,732.7 551.7,732.4 556.5,732.6 561.4,733.1 566.2,733.3 571.1,734.3 576.0,734.2 580.8,734.3 585.6,733.9 590.5,735.1 595.3,735.2 600.2,735.0 605.0,734.7 609.9,735.3 614.8,735.3 619.6,734.8 624.5,735.4 629.3,735.7 634.1,735.4 639.0,734.9 643.8,734.9 648.7,734.8 653.5,734.7 658.4,734.3 663.2,733.2 668.1,733.7 673.0,733.5 677.8,733.4 682.6,733.5 687.5,733.2 692.3,733.3 697.2,734.0 702.0,735.0 706.9,735.7 711.8,737.3 716.6,737.0 721.4,737.9 726.3,738.0 731.1,738.5 736.0,738.5 740.9,738.8 745.7,739.1 750.5,739.0 755.4,739.9 760.2,740.0 765.1,740.1 769.9,740.7 774.8,741.0 779.6,740.7 784.5,741.5"/>
<polyline points="202.5,737.3 207.3,736.5 212.2,736.2 217.1,735.9 221.9,733.7 226.8,733.4 231.6,731.2 236.4,730.8 241.3,729.7 246.2,726.5 251.0,726.6 255.8,725.7 260.7,724.7 265.6,723.8 270.4,724.0 275.2,722.3 280.1,722.5 284.9,721.0 289.8,721.1 294.6,722.0 299.5,722.8 304.4,722.9 309.2,722.3 314.1,723.6 318.9,724.3 323.8,724.1 328.6,724.4 333.4,726.6 338.3,727.0 343.1,726.9 348.0,727.2 352.9,728.8 357.7,729.6 362.5,729.7 367.4,730.3 372.2,731.3 377.1,732.0 381.9,732.7 386.8,733.1 391.6,732.5 396.5,733.6 401.4,733.9 406.2,733.9 411.0,734.8 415.9,735.7 420.8,735.6 425.6,734.4 430.4,736.0 435.3,735.7 440.1,736.8 445.0,735.2 449.9,736.3 454.7,737.7 459.6,737.0 464.4,736.9 469.2,736.6 474.1,737.6 478.9,737.1 483.8,737.6 488.6,737.8 493.5,738.4 498.3,738.2 503.2,738.0 508.1,738.6 512.9,739.1 517.8,737.5 522.6,738.8 527.5,738.9 532.3,740.2 537.1,739.0 542.0,740.4 546.8,739.1 551.7,739.6 556.5,739.9 561.4,740.1 566.2,739.5 571.1,739.9 576.0,740.5 580.8,739.3 585.6,740.4 590.5,739.8 595.3,740.1 600.2,739.2 605.0,740.7 609.9,739.4 614.8,739.9 619.6,741.5 624.5,740.9 629.3,740.5 634.1,740.6 639.0,740.1 643.8,739.8 648.7,739.6 653.5,740.5 658.4,739.7 663.2,740.0 668.1,739.5 673.0,739.8 677.8,739.7 682.6,739.9 687.5,739.6 692.3,739.8 697.2,740.5 702.0,741.2 706.9,739.9 711.8,740.1 716.6,740.7 721.4,740.1 726.3,740.8 731.1,740.9 736.0,741.2 740.9,740.4 745.7,740.2 750.5,741.2 755.4,741.4 760.2,740.8 765.1,741.0 769.9,741.2 774.8,741.5 779.6,741.4 784.5,741.5"/>
<polyline points="202.5,721.7 207.3,715.7 212.2,708.6 217.1,698.7 221.9,687.2 226.8,676.9 231.6,661.8 236.4,656.1 241.3,646.3 246.2,639.0 251.0,640.6 255.8,635.4 260.7,636.5 265.6,633.3 270.4,637.6 275.2,631.3 280.1,635.2 284.9,640.8 289.8,636.7 294.6,643.8 299.5,646.8 304.4,643.5 309.2,645.0 314.1,647.8 318.9,644.3 323.8,647.5 328.6,651.0 333.4,651.6 338.3,655.3 343.1,656.7 348.0,662.4 352.9,668.7 357.7,678.7 362.5,679.3 367.4,680.0 372.2,687.9 377.1,690.6 381.9,694.3 386.8,699.8 391.6,698.6 396.5,698.5 401.4,700.6 406.2,704.4 411.0,707.6 415.9,708.4 420.8,709.8 425.6,712.6 430.4,713.0 435.3,715.9 440.1,718.4 445.0,719.1 449.9,719.2 454.7,721.5 459.6,722.9 464.4,723.2 469.2,723.1 474.1,724.5 478.9,725.0 483.8,725.0 488.6,727.3 493.5,725.7 498.3,726.9 503.2,727.0 508.1,727.8 512.9,727.6 517.8,728.5 522.6,729.4 527.5,729.3 532.3,730.0 537.1,729.1 542.0,731.3 546.8,731.3 551.7,733.3 556.5,732.6 561.4,733.0 566.2,733.4 571.1,733.4 576.0,733.3 580.8,733.4 585.6,733.5 590.5,733.7 595.3,733.9 600.2,734.8 605.0,735.6 609.9,734.3 614.8,735.2 619.6,736.1 624.5,734.8 629.3,736.5 634.1,736.8 639.0,736.4 643.8,736.9 648.7,736.3 653.5,736.3 658.4,736.6 663.2,735.8 668.1,736.3 673.0,736.0 677.8,733.8 682.6,733.6 687.5,733.8 692.3,734.7 697.2,734.3 702.0,735.4 706.9,735.3 711.8,736.8 716.6,736.8 721.4,737.9 726.3,737.6 731.1,738.6 736.0,739.8 740.9,739.4 745.7,740.1 750.5,739.6 755.4,739.8 760.2,741.0 765.1,740.6 769.9,741.3 774.8,741.3 779.6,741.3 784.5,741.5"/>
<polyline points="202.5,726.0 207.3,726.3 212.2,727.2 217.1,724.6 221.9,719.5 226.8,716.7 231.6,712.0 236.4,708.3 241.3,703.3 246.2,700.7 251.0,698.5 255.8,698.9 260.7,698.5 265.6,699.3 270.4,696.7 275.2,699.6 280.1,700.8 284.9,699.5 289.8,697.5 294.6,701.8 299.5,702.3 304.4,703.1 309.2,703.4 314.1,706.1 318.9,705.3 323.8,705.4 328.6,707.6 333.4,708.6 338.3,710.5 343.1,712.9 348.0,715.4 352.9,717.8 357.7,718.4 362.5,719.0 367.4,719.3 372.2,721.9 377.1,722.0 381.9,722.5 386.8,722.4 391.6,723.8 396.5,722.7 401.4,722.7 406.2,724.5 411.0,724.0 415.9,725.8 420.8,725.7 425.6,727.4 430.4,728.4 435.3,728.6 440.1,729.0 445.0,729.8 449.9,730.3 454.7,731.0 459.6,731.0 464.4,731.8 469.2,732.4 474.1,732.4 478.9,733.8 483.8,733.6 488.6,734.6 493.5,734.9 498.3,734.5 503.2,735.6 508.1,735.5 512.9,736.5 517.8,737.0 522.6,737.2 527.5,737.0 532.3,736.2 537.1,737.2 542.0,736.8 546.8,737.3 551.7,737.5 556.5,738.0 561.4,736.6 566.2,737.1 571.1,737.2 576.0,736.5 580.8,737.7 585.6,736.9 590.5,736.3 595.3,735.7 600.2,736.3 605.0,734.7 609.9,735.1 614.8,736.1 619.6,734.9 624.5,734.5 629.3,735.4 634.1,733.4 639.0,733.9 643.8,732.0 648.7,730.5 653.5,728.8 658.4,727.6 663.2,726.3 668.1,725.4 673.0,722.2 677.8,721.3 682.6,719.8 687.5,720.6 692.3,718.9 697.2,717.2 702.0,719.7 706.9,720.2 711.8,725.6 716.6,730.1 721.4,733.4 726.3,736.3 731.1,737.5 736.0,737.8 740.9,739.4 745.7,739.4 750.5,739.7 755.4,739.7 760.2,740.5 765.1,741.3 769.9,741.5 774.8,741.5 779.6,741.5 784.5,741.5"/>
<polyline points="202.5,737.7 207.3,726.5 212.2,716.7 217.1,706.3 221.9,700.1 226.8,696.4 231.6,691.1 236.4,679.8 241.3,678.2 246.2,677.0 251.0,672.7 255.8,672.2 260.7,674.8 265.6,677.2 270.4,683.7 275.2,683.2 280.1,684.9 284.9,686.1 289.8,688.9 294.6,693.3 299.5,694.9 304.4,696.7 309.2,696.7 314.1,699.5 318.9,703.2 323.8,701.8 328.6,705.9 333.4,705.6 338.3,708.1 343.1,710.1 348.0,711.2 352.9,712.9 357.7,713.4 362.5,715.4 367.4,718.7 372.2,719.6 377.1,719.1 381.9,720.8 386.8,721.9 391.6,722.8 396.5,722.5 401.4,722.5 406.2,724.1 411.0,724.8 415.9,724.1 420.8,724.8 425.6,726.7 430.4,726.1 435.3,726.4 440.1,727.3 445.0,729.2 449.9,728.2 454.7,730.0 459.6,729.8 464.4,730.8 469.2,731.5 474.1,731.0 478.9,730.6 483.8,732.7 488.6,733.2 493.5,731.8 498.3,733.4 503.2,733.1 508.1,734.0 512.9,734.2 517.8,733.9 522.6,735.1 527.5,735.2 532.3,735.5 537.1,734.9 542.0,735.0 546.8,736.0 551.7,735.7 556.5,735.6 561.4,736.1 566.2,735.8 571.1,736.3 576.0,736.8 580.8,735.4 585.6,736.1 590.5,735.3 595.3,735.3 600.2,735.0 605.0,734.7 609.9,734.7 614.8,734.2 619.6,734.1 624.5,734.3 629.3,733.3 634.1,733.7 639.0,734.1 643.8,733.6 648.7,733.1 653.5,733.9 658.4,733.7 663.2,733.0 668.1,732.2 673.0,732.9 677.8,731.8 682.6,731.9 687.5,732.9 692.3,732.9 697.2,734.6 702.0,734.0 706.9,734.8 711.8,734.1 716.6,735.0 721.4,735.5 726.3,736.1 731.1,734.9 736.0,736.4 740.9,736.6 745.7,737.8 750.5,737.8 755.4,738.1 760.2,738.8 765.1,739.1 769.9,739.9 774.8,740.6 779.6,740.8 784.5,741.5"/>
<polyline points="202.5,720.9 207.3,715.2 212.2,707.7 217.1,701.7 221.9,691.3 226.8,679.7 231.6,674.6 236.4,661.4 241.3,658.6 246.2,653.2 251.0,651.7 255.8,646.7 260.7,640.5 265.6,640.7 270.4,645.9 275.2,647.2 280.1,647.2 284.9,654.7 289.8,655.5 294.6,657.5 299.5,663.3 304.4,663.0 309.2,665.6 314.1,666.4 318.9,667.9 323.8,675.6 328.6,672.0 333.4,676.9 338.3,678.1 343.1,679.2 348.0,681.8 352.9,681.3 357.7,690.5 362.5,689.4 367.4,690.0 372.2,688.1 377.1,690.9 381.9,689.2 386.8,690.6 391.6,686.8 396.5,690.3 401.4,690.2 406.2,689.5 411.0,689.6 415.9,687.8 420.8,695.5 425.6,695.8 430.4,694.7 435.3,699.8 440.1,701.7 445.0,703.0 449.9,705.0 454.7,707.7 459.6,708.2 464.4,709.7 469.2,710.1 474.1,715.3 478.9,714.4 483.8,716.6 488.6,717.3 493.5,719.7 498.3,720.2 503.2,721.0 508.1,721.8 512.9,725.0 517.8,725.1 522.6,725.7 527.5,725.9 532.3,726.6 537.1,728.9 542.0,729.3 546.8,729.8 551.7,730.3 556.5,731.0 561.4,731.1 566.2,731.8 571.1,730.8 576.0,733.0 580.8,732.7 585.6,733.4 590.5,734.2 595.3,733.7 600.2,734.9 605.0,734.6 609.9,735.2 614.8,735.8 619.6,736.1 624.5,735.5 629.3,735.3 634.1,735.6 639.0,733.7 643.8,734.1 648.7,732.9 653.5,731.0 658.4,730.5 663.2,729.8 668.1,727.6 673.0,725.6 677.8,725.3 682.6,724.5 687.5,724.2 692.3,725.4 697.2,723.9 702.0,727.1 706.9,727.8 711.8,729.8 716.6,731.4 721.4,732.4 726.3,734.5 731.1,734.8 736.0,735.8 740.9,736.4 745.7,736.9 750.5,736.4 755.4,737.7 760.2,737.8 765.1,739.0 769.9,739.6 774.8,740.2 779.6,740.7 784.5,741.5"/>
<polyline points="202.5,723.0 207.3,723.2 212.2,721.9 217.1,722.8 221.9,723.2 226.8,721.2 231.6,716.7 236.4,712.7 241.3,706.2 246.2,696.4 251.0,685.2 255.8,676.8 260.7,666.8 265.6,657.2 270.4,653.9 275.2,649.2 280.1,644.9 284.9,638.8 289.8,637.7 294.6,631.5 299.5,636.3 304.4,632.1 309.2,633.9 314.1,631.7 318.9,641.1 323.8,640.2 328.6,641.9 333.4,651.0 338.3,649.3 343.1,654.5 348.0,660.2 352.9,664.8 357.7,664.7 362.5,669.4 367.4,672.5 372.2,675.5 377.1,686.0 381.9,682.1 386.8,683.0 391.6,689.9 396.5,693.0 401.4,695.1 406.2,696.9 411.0,697.6 415.9,703.5 420.8,710.0 425.6,709.7 430.4,713.0 435.3,714.8 440.1,717.2 445.0,721.2 449.9,720.2 454.7,722.8 459.6,722.3 464.4,723.5 469.2,724.1 474.1,725.8 478.9,723.7 483.8,724.9 488.6,724.5 493.5,724.9 498.3,725.8 503.2,726.7 508.1,727.7 512.9,726.6 517.8,727.4 522.6,728.7 527.5,729.8 532.3,730.4 537.1,730.5 542.0,730.1 546.8,731.7 551.7,732.7 556.5,731.8 561.4,732.6 566.2,733.5 571.1,734.7 576.0,733.9 580.8,733.3 585.6,733.5 590.5,734.6 595.3,734.3 600.2,733.6 605.0,733.3 609.9,733.6 614.8,734.0 619.6,733.4 624.5,732.9 629.3,732.2 634.1,731.7 639.0,731.7 643.8,731.1 648.7,728.9 653.5,728.6 658.4,728.0 663.2,727.1 668.1,727.9 673.0,727.7 677.8,729.8 682.6,730.2 687.5,732.1 692.3,733.7 697.2,732.4 702.0,733.5 706.9,734.2 711.8,734.6 716.6,735.0 721.4,736.4 726.3,736.9 731.1,737.9 736.0,738.4 740.9,738.0 745.7,738.9 750.5,738.4 755.4,738.6 760.2,740.4 765.1,740.1 769.9,740.8 774.8,740.9 779.6,741.5 784.5,741.5"/>
<polyline points="202.5,737.4 207.3,732.1 212.2,728.6 217.1,726.7 221.9,723.2 226.8,720.8 231.6,718.5 236.4,716.7 241.3,712.9 246.2,711.1 251.0,709.4 255.8,707.1 260.7,707.5 265.6,707.5 270.4,706.5 275.2,712.0 280.1,711.6 284.9,711.4 289.8,713.3 294.6,713.1 299.5,716.9 304.4,715.0 309.2,715.2 314.1,717.8 318.9,716.0 323.8,715.2 328.6,716.0 333.4,713.4 338.3,714.3 343.1,715.9 348.0,715.1 352.9,714.5 357.7,713.6 362.5,712.7 367.4,714.7 372.2,715.1 377.1,713.4 381.9,715.8 386.8,713.2 391.6,712.3 396.5,711.5 401.4,712.5 406.2,710.2 411.0,708.6 415.9,709.3 420.8,710.0 425.6,710.0 430.4,711.1 435.3,713.9 440.1,714.5 445.0,713.9 449.9,716.7 454.7,718.3 459.6,719.9 464.4,720.6 469.2,721.3 474.1,722.4 478.9,723.0 483.8,723.4 488.6,724.2 493.5,726.1 498.3,725.9 503.2,727.3 508.1,727.7 512.9,728.8 517.8,729.9 522.6,730.3 527.5,730.0 532.3,730.9 537.1,731.4 542.0,731.7 546.8,731.6 551.7,732.2 556.5,733.4 561.4,733.1 566.2,733.9 571.1,732.6 576.0,734.1 580.8,735.0 585.6,734.5 590.5,734.6 595.3,736.4 600.2,735.3 605.0,737.3 609.9,736.8 614.8,737.2 619.6,737.9 624.5,738.5 629.3,738.5 634.1,738.7 639.0,738.5 643.8,737.8 648.7,738.5 653.5,737.7 658.4,738.3 663.2,738.5 668.1,737.7 673.0,737.0 677.8,737.8 682.6,737.6 687.5,737.4 692.3,738.3 697.2,737.9 702.0,738.8 706.9,739.3 711.8,739.4 716.6,739.8 721.4,739.7 726.3,740.9 731.1,741.0 736.0,740.8 740.9,741.4 745.7,741.2 750.5,741.4 755.4,741.0 760.2,741.5 765.1,741.3 769.9,741.5 774.8,741.3 779.6,741.5 784.5,741.5"/>
<polyline points="202.5,741.2 207.3,736.4 212.2,732.5 217.1,729.5 221.9,728.7 226.8,726.1 231.6,721.7 236.4,716.7 241.3,711.5 246.2,705.0 251.0,697.5 255.8,689.7 260.7,685.9 265.6,679.9 270.4,671.3 275.2,669.5 280.1,666.5 284.9,657.2 289.8,660.5 294.6,655.3 299.5,648.1 304.4,654.3 309.2,644.2 314.1,648.2 318.9,650.7 323.8,647.4 328.6,652.0 333.4,659.8 338.3,654.6 343.1,658.0 348.0,663.3 352.9,663.0 357.7,668.4 362.5,671.7 367.4,669.1 372.2,675.6 377.1,677.5 381.9,680.2 386.8,688.5 391.6,685.3 396.5,691.8 401.4,692.8 406.2,690.3 411.0,692.7 415.9,691.0 420.8,696.2 425.6,697.3 430.4,699.2 435.3,703.0 440.1,704.4 445.0,707.8 449.9,708.5 454.7,711.4 459.6,712.4 464.4,714.8 469.2,716.2 474.1,716.6 478.9,719.0 483.8,718.4 488.6,722.3 493.5,722.3 498.3,722.5 503.2,722.9 508.1,724.0 512.9,724.8 517.8,726.2 522.6,725.9 527.5,727.8 532.3,729.8 537.1,730.4 542.0,730.8 546.8,729.6 551.7,731.3 556.5,731.2 561.4,731.0 566.2,732.1 571.1,731.7 576.0,731.7 580.8,731.2 585.6,731.7 590.5,732.6 595.3,732.9 600.2,731.4 605.0,731.4 609.9,732.6 614.8,732.1 619.6,732.8 624.5,733.1 629.3,732.8 634.1,734.0 639.0,733.2 643.8,733.4 648.7,733.5 653.5,733.4 658.4,732.6 663.2,732.2 668.1,731.9 673.0,731.7 677.8,730.4 682.6,730.6 687.5,731.0 692.3,729.8 697.2,731.0 702.0,731.4 706.9,732.1 711.8,732.4 716.6,731.6 721.4,732.6 726.3,733.7 731.1,733.8 736.0,734.7 740.9,735.3 745.7,735.9 750.5,736.1 755.4,737.3 760.2,737.5 765.1,738.1 769.9,739.5 774.8,740.2 779.6,740.5 784.5,741.5"/>
<polyline points="202.5,733.3 207.3,731.8 212.2,731.0 217.1,730.0 221.9,729.5 226.8,729.5 231.6,727.4 236.4,726.7 241.3,727.2 246.2,726.4 251.0,725.4 255.8,724.0 260.7,720.6 265.6,713.9 270.4,708.8 275.2,703.0 280.1,691.5 284.9,684.7 289.8,676.2 294.6,671.8 299.5,666.1 304.4,662.9 309.2,664.7 314.1,655.7 318.9,658.3 323.8,659.7 328.6,659.7 333.4,658.9 338.3,661.3 343.1,658.7 348.0,669.9 352.9,662.8 357.7,662.1 362.5,671.9 367.4,666.1 372.2,668.4 377.1,670.1 381.9,672.6 386.8,674.5 391.6,680.6 396.5,684.1 401.4,684.2 406.2,689.0 411.0,690.5 415.9,690.3 420.8,698.2 425.6,700.1 430.4,703.0 435.3,706.1 440.1,708.7 445.0,712.3 449.9,714.4 454.7,715.7 459.6,720.2 464.4,721.4 469.2,723.3 474.1,723.5 478.9,725.3 483.8,724.8 488.6,726.4 493.5,727.7 498.3,729.3 503.2,728.7 508.1,729.7 512.9,728.8 517.8,727.3 522.6,728.6 527.5,729.0 532.3,728.7 537.1,730.4 542.0,730.4 546.8,731.3 551.7,731.8 556.5,732.7 561.4,732.6 566.2,732.7 571.1,733.8 576.0,733.7 580.8,733.6 585.6,734.1 590.5,734.0 595.3,733.8 600.2,733.5 605.0,733.5 609.9,734.4 614.8,734.2 619.6,734.3 624.5,734.9 629.3,733.2 634.1,734.4 639.0,733.9 643.8,733.2 648.7,732.5 653.5,732.0 658.4,732.5 663.2,731.2 668.1,731.9 673.0,730.9 677.8,731.1 682.6,731.5 687.5,732.0 692.3,732.2 697.2,733.3 702.0,734.1 706.9,733.0 711.8,735.1 716.6,735.1 721.4,736.0 726.3,736.2 731.1,736.7 736.0,737.5 740.9,737.6 745.7,737.5 750.5,737.6 755.4,737.6 760.2,739.2 765.1,740.2 769.9,740.6 774.8,740.5 779.6,741.1 784.5,741.5"/>
<polyline points="202.5,725.3 207.3,718.8 212.2,712.3 217.1,705.6 221.9,700.2 226.8,698.2 231.6,698.4 236.4,693.5 241.3,693.9 246.2,691.1 251.0,694.7 255.8,690.1 260.7,689.3 265.6,692.8 270.4,695.2 275.2,702.3 280.1,698.1 284.9,701.5 289.8,701.3 294.6,706.4 299.5,706.8 304.4,709.0 309.2,711.3 314.1,712.8 318.9,714.5 323.8,715.2 328.6,716.2 333.4,717.4 338.3,718.7 343.1,719.7 348.0,720.0 352.9,720.5 357.7,720.9 362.5,721.6 367.4,722.4 372.2,723.6 377.1,725.9 381.9,723.7 386.8,723.5 391.6,724.6 396.5,724.7 401.4,725.9 406.2,724.8 411.0,725.5 415.9,725.7 420.8,726.9 425.6,726.8 430.4,726.9 435.3,728.7 440.1,729.0 445.0,729.7 449.9,730.0 454.7,730.3 459.6,732.1 464.4,732.1 469.2,731.8 474.1,732.1 478.9,732.3 483.8,732.6 488.6,732.3 493.5,733.8 498.3,733.9 503.2,734.5 508.1,734.3 512.9,734.5 517.8,734.3 522.6,735.4 527.5,735.9 532.3,735.6 537.1,736.4 542.0,735.9 546.8,735.2 551.7,735.4 556.5,735.0 561.4,735.3 566.2,736.4 571.1,735.9 576.0,736.4 580.8,735.9 585.6,735.8 590.5,738.0 595.3,737.2 600.2,736.7 605.0,737.3 609.9,738.1 614.8,739.6 619.6,738.0 624.5,738.3 629.3,738.4 634.1,738.1 639.0,738.1 643.8,737.6 648.7,738.2 653.5,737.7 658.4,737.2 663.2,737.4 668.1,737.3 673.0,737.0 677.8,736.1 682.6,736.7 687.5,737.1 692.3,737.2 697.2,737.1 702.0,738.7 706.9,739.6 711.8,738.8 716.6,739.3 721.4,738.7 726.3,740.1 731.1,740.8 736.0,740.2 740.9,740.4 745.7,740.5 750.5,740.6 755.4,739.9 760.2,741.2 765.1,741.0 769.9,741.3 774.8,741.5 779.6,741.5 784.5,741.5"/>
<polyline points="202.5,712.1 207.3,712.1 212.2,703.3 217.1,700.0 221.9,696.1 226.8,687.7 231.6,680.9 236.4,677.0 241.3,673.6 246.2,671.5 251.0,666.2 255.8,660.3 260.7,670.4 265.6,662.5 270.4,660.6 275.2,662.4 280.1,654.3 284.9,660.6 289.8,667.0 294.6,662.6 299.5,667.7 304.4,663.4 309.2,665.9 314.1,665.4 318.9,673.7 323.8,673.2 328.6,673.5 333.4,680.6 338.3,684.6 343.1,686.6 348.0,690.4 352.9,694.2 357.7,695.9 362.5,698.4 367.4,702.7 372.2,705.0 377.1,704.5 381.9,706.4 386.8,706.3 391.6,706.1 396.5,708.6 401.4,706.0 406.2,705.9 411.0,708.6 415.9,707.9 420.8,710.1 425.6,710.2 430.4,713.4 435.3,713.8 440.1,715.2 445.0,716.1 449.9,719.5 454.7,720.8 459.6,722.0 464.4,723.6 469.2,723.5 474.1,725.6 478.9,726.3 483.8,726.6 488.6,727.2 493.5,728.8 498.3,728.5 503.2,729.6 508.1,729.5 512.9,730.3 517.8,730.6 522.6,730.8 527.5,732.2 532.3,733.0 537.1,733.1 542.0,733.6 546.8,732.6 551.7,733.6 556.5,734.4 561.4,733.3 566.2,734.4 571.1,733.5 576.0,734.2 580.8,733.6 585.6,733.0 590.5,733.3 595.3,734.5 600.2,734.3 605.0,733.9 609.9,734.3 614.8,734.3 619.6,733.9 624.5,734.2 629.3,734.8 634.1,735.1 639.0,735.7 643.8,735.3 648.7,733.9 653.5,734.3 658.4,733.9 663.2,734.4 668.1,734.2 673.0,735.0 677.8,734.4 682.6,736.0 687.5,735.9 692.3,736.1 697.2,734.9 702.0,735.3 706.9,735.2 711.8,736.4 716.6,736.6 721.4,737.4 726.3,738.0 731.1,738.8 736.0,740.1 740.9,739.5 745.7,740.4 750.5,740.8 755.4,740.5 760.2,740.3 765.1,740.8 769.9,740.9 774.8,741.4 779.6,741.4 784.5,741.5"/>
<polyline points="202.5,724.8 207.3,724.4 212.2,722.6 217.1,720.9 221.9,718.7 226.8,715.5 231.6,711.1 236.4,709.0 241.3,705.8 246.2,699.3 251.0,698.7 255.8,698.9 260.7,694.4 265.6,692.5 270.4,691.3 275.2,692.6 280.1,694.9 284.9,688.0 289.8,696.5 294.6,696.5 299.5,697.0 304.4,698.0 309.2,699.5 314.1,704.1 318.9,702.7 323.8,704.4 328.6,705.5 333.4,707.4 338.3,704.5 343.1,707.3 348.0,709.0 352.9,710.9 357.7,709.9 362.5,713.9 367.4,715.4 372.2,715.7 377.1,716.7 381.9,717.2 386.8,718.1 391.6,720.2 396.5,720.3 401.4,719.4 406.2,721.9 411.0,722.2 415.9,722.1 420.8,723.4 425.6,722.6 430.4,724.8 435.3,724.2 440.1,725.3 445.0,727.4 449.9,728.5 454.7,727.4 459.6,729.8 464.4,729.8 469.2,730.4 474.1,730.6 478.9,731.8 483.8,733.2 488.6,732.6 493.5,733.3 498.3,733.7 503.2,734.6 508.1,732.7 512.9,734.4 517.8,734.6 522.6,734.1 527.5,734.7 532.3,735.5 537.1,735.1 542.0,734.7 546.8,734.8 551.7,735.1 556.5,735.4 561.4,735.5 566.2,735.2 571.1,734.8 576.0,735.2 580.8,734.5 585.6,735.6 590.5,735.9 595.3,735.9 600.2,735.5 605.0,735.4 609.9,735.1 614.8,735.2 619.6,733.9 624.5,735.0 629.3,735.0 634.1,734.1 639.0,733.1 643.8,733.5 648.7,734.0 653.5,732.5 658.4,732.1 663.2,731.3 668.1,730.3 673.0,730.5 677.8,729.5 682.6,729.6 687.5,731.0 692.3,731.7 697.2,733.7 702.0,734.4 706.9,735.7 711.8,736.3 716.6,738.2 721.4,737.8 726.3,739.0 731.1,739.9 736.0,738.9 740.9,738.9 745.7,740.2 750.5,739.6 755.4,740.3 760.2,740.3 765.1,740.9 769.9,741.2 774.8,741.5 779.6,741.5 784.5,741.5"/>
<polyline points="202.5,726.8 207.3,715.6 212.2,704.6 217.1,693.3 221.9,681.9 226.8,675.0 231.6,671.2 236.4,657.9 241.3,660.1 246.2,658.3 251.0,659.0 255.8,651.7 260.7,647.4 265.6,655.9 270.4,656.6 275.2,658.9 280.1,659.6 284.9,665.4 289.8,668.2 294.6,666.3 299.5,667.7 304.4,671.7 309.2,673.0 314.1,675.2 318.9,679.3 323.8,686.1 328.6,683.4 333.4,688.9 338.3,693.5 343.1,697.8 348.0,702.8 352.9,702.8 357.7,704.7 362.5,706.6 367.4,705.2 372.2,707.9 377.1,705.0 381.9,707.3 386.8,706.7 391.6,706.5 396.5,705.9 401.4,704.8 406.2,707.7 411.0,705.9 415.9,708.5 420.8,710.4 425.6,711.0 430.4,711.4 435.3,713.8 440.1,714.9 445.0,715.2 449.9,715.8 454.7,720.5 459.6,719.5 464.4,720.2 469.2,723.4 474.1,723.2 478.9,723.2 483.8,725.8 488.6,726.0 493.5,725.5 498.3,726.3 503.2,726.2 508.1,728.1 512.9,728.5 517.8,727.2 522.6,727.4 527.5,726.9 532.3,728.3 537.1,730.1 542.0,730.7 546.8,730.6 551.7,729.6 556.5,730.9 561.4,732.0 566.2,731.6 571.1,733.6 576.0,733.4 580.8,733.3 585.6,733.7 590.5,734.6 595.3,734.8 600.2,734.3 605.0,735.4 609.9,735.1 614.8,735.1 619.6,735.7 624.5,735.0 629.3,735.5 634.1,734.4 639.0,734.7 643.8,733.6 648.7,732.8 653.5,732.9 658.4,732.9 663.2,732.4 668.1,733.5 673.0,733.7 677.8,735.4 682.6,736.6 687.5,735.2 692.3,737.3 697.2,737.7 702.0,735.4 706.9,736.5 711.8,737.4 716.6,738.0 721.4,738.1 726.3,738.2 731.1,739.0 736.0,738.8 740.9,740.4 745.7,740.0 750.5,739.7 755.4,740.5 760.2,740.1 765.1,740.6 769.9,741.0 774.8,741.3 779.6,741.3 784.5,741.5"/>
<polyline points="202.5,723.6 207.3,723.3 212.2,719.9 217.1,715.2 221.9,708.8 226.8,703.1 231.6,695.1 236.4,689.7 241.3,686.3 246.2,682.0 251.0,676.3 255.8,676.5 260.7,674.9 265.6,678.2 270.4,676.5 275.2,680.4 280.1,678.0 284.9,678.4 289.8,682.3 294.6,683.1 299.5,685.4 304.4,685.6 309.2,684.8 314.1,684.4 318.9,685.1 323.8,684.8 328.6,689.1 333.4,689.6 338.3,686.4 343.1,693.5 348.0,694.5 352.9,695.5 357.7,695.1 362.5,698.3 367.4,699.0 372.2,704.6 377.1,708.1 381.9,709.1 386.8,712.3 391.6,710.4 396.5,713.9 401.4,712.8 406.2,712.2 411.0,713.4 415.9,713.3 420.8,714.3 425.6,714.4 430.4,714.7 435.3,716.3 440.1,716.7 445.0,717.9 449.9,719.0 454.7,719.1 459.6,718.2 464.4,719.9 469.2,719.1 474.1,721.4 478.9,721.4 483.8,723.5 488.6,722.8 493.5,724.7 498.3,723.8 503.2,724.2 508.1,725.5 512.9,726.8 517.8,727.1 522.6,728.8 527.5,728.6 532.3,728.1 537.1,729.4 542.0,730.8 546.8,730.7 551.7,732.4 556.5,733.3 561.4,733.1 566.2,733.3 571.1,734.0 576.0,733.8 580.8,733.9 585.6,734.0 590.5,734.4 595.3,734.1 600.2,734.8 605.0,735.2 609.9,734.7 614.8,735.0 619.6,734.4 624.5,734.4 629.3,735.1 634.1,734.7 639.0,735.1 643.8,734.3 648.7,733.6 653.5,734.3 658.4,734.5 663.2,734.5 668.1,732.9 673.0,733.7 677.8,732.9 682.6,733.4 687.5,733.4 692.3,733.4 697.2,733.7 702.0,734.3 706.9,734.5 711.8,735.0 716.6,735.7 721.4,735.9 726.3,735.7 731.1,736.2 736.0,736.9 740.9,737.4 745.7,737.6 750.5,738.0 755.4,739.3 760.2,739.5 765.1,739.3 769.9,740.4 774.8,740.1 779.6,740.9 784.5,741.5"/>
<polyline points="202.5,728.9 207.3,719.5 212.2,710.4 217.1,704.6 221.9,700.8 226.8,699.0 231.6,698.5 236.4,697.0 241.3,695.9 246.2,697.1 251.0,699.2 255.8,700.5 260.7,699.5 265.6,701.0 270.4,699.9 275.2,700.8 280.1,703.8 284.9,702.5 289.8,701.3 294.6,702.7 299.5,700.5 304.4,699.9 309.2,699.3 314.1,700.8 318.9,699.9 323.8,699.1 328.6,702.8 333.4,701.4 338.3,703.2 343.1,704.0 348.0,701.7 352.9,703.5 357.7,704.6 362.5,706.7 367.4,703.2 372.2,705.5 377.1,704.3 381.9,706.4 386.8,704.4 391.6,703.9 396.5,704.2 401.4,703.7 406.2,704.2 411.0,702.6 415.9,705.5 420.8,705.6 425.6,707.6 430.4,707.3 435.3,708.2 440.1,709.4 445.0,709.4 449.9,711.1 454.7,710.4 459.6,713.7 464.4,715.3 469.2,717.5 474.1,717.8 478.9,718.6 483.8,718.9 488.6,721.2 493.5,720.5 498.3,721.4 503.2,720.7 508.1,722.1 512.9,723.5 517.8,722.3 522.6,723.8 527.5,724.4 532.3,723.8 537.1,726.0 542.0,725.6 546.8,726.3 551.7,726.1 556.5,727.8 561.4,726.7 566.2,728.0 571.1,727.7 576.0,728.5 580.8,728.5 585.6,728.7 590.5,729.0 595.3,729.9 600.2,729.6 605.0,731.1 609.9,730.8 614.8,730.7 619.6,731.6 624.5,731.8 629.3,732.3 634.1,732.2 639.0,732.2 643.8,731.7 648.7,732.5 653.5,732.1 658.4,732.0 663.2,731.8 668.1,731.1 673.0,729.5 677.8,730.2 682.6,730.8 687.5,729.8 692.3,731.3 697.2,732.5 702.0,733.4 706.9,734.7 711.8,734.8 716.6,736.7 721.4,737.3 726.3,737.6 731.1,738.0 736.0,738.6 740.9,738.6 745.7,739.2 750.5,739.7 755.4,739.6 760.2,740.8 765.1,740.5 769.9,740.6 774.8,741.0 779.6,741.4 784.5,741.5"/>
<polyline points="202.5,734.3 207.3,729.4 212.2,726.9 217.1,721.6 221.9,718.1 226.8,716.8 231.6,711.9 236.4,710.8 241.3,709.5 246.2,704.5 251.0,703.7 255.8,701.6 260.7,703.7 265.6,705.0 270.4,703.0 275.2,705.3 280.1,707.6 284.9,708.7 289.8,709.6 294.6,709.4 299.5,707.6 304.4,706.6 309.2,710.4 314.1,707.8 318.9,707.4 323.8,708.5 328.6,705.8 333.4,708.0 338.3,706.7 343.1,706.0 348.0,706.3 352.9,705.9 357.7,703.1 362.5,707.7 367.4,704.5 372.2,703.5 377.1,704.8 381.9,703.3 386.8,703.7 391.6,701.7 396.5,700.3 401.4,698.9 406.2,696.3 411.0,695.5 415.9,693.7 420.8,697.9 425.6,696.0 430.4,698.7 435.3,702.1 440.1,700.5 445.0,703.0 449.9,704.0 454.7,705.1 459.6,708.5 464.4,707.6 469.2,711.6 474.1,710.8 478.9,712.2 483.8,715.8 488.6,716.8 493.5,715.2 498.3,720.5 503.2,719.3 508.1,721.5 512.9,722.5 517.8,724.7 522.6,726.0 527.5,727.4 532.3,726.9 537.1,725.9 542.0,728.5 546.8,727.8 551.7,727.4 556.5,728.5 561.4,728.6 566.2,728.7 571.1,728.6 576.0,729.2 580.8,729.0 585.6,729.8 590.5,729.6 595.3,730.6 600.2,731.0 605.0,732.0 609.9,731.2 614.8,732.3 619.6,732.6 624.5,732.2 629.3,734.2 634.1,734.0 639.0,734.5 643.8,733.4 648.7,733.7 653.5,733.4 658.4,733.2 663.2,732.3 668.1,730.9 673.0,730.0 677.8,731.4 682.6,730.5 687.5,732.1 692.3,731.7 697.2,731.3 702.0,731.2 706.9,731.9 711.8,731.7 716.6,731.2 721.4,733.9 726.3,734.7 731.1,734.3 736.0,734.2 740.9,735.9 745.7,735.7 750.5,735.6 755.4,736.6 760.2,738.1 765.1,737.9 769.9,739.4 774.8,739.6 779.6,740.6 784.5,741.5"/>
<polyline points="202.5,734.8 207.3,730.1 212.2,727.0 217.1,723.4 221.9,717.2 226.8,708.2 231.6,705.5 236.4,694.7 241.3,691.4 246.2,685.5 251.0,678.0 255.8,669.3 260.7,666.0 265.6,664.1 270.4,659.1 275.2,659.3 280.1,653.2 284.9,656.3 289.8,654.7 294.6,660.1 299.5,659.3 304.4,664.6 309.2,663.5 314.1,671.4 318.9,667.0 323.8,668.2 328.6,672.6 333.4,673.5 338.3,676.3 343.1,681.7 348.0,683.6 352.9,685.7 357.7,686.9 362.5,689.5 367.4,691.5 372.2,689.2 377.1,693.8 381.9,697.2 386.8,694.2 391.6,699.7 396.5,699.2 401.4,699.9 406.2,700.9 411.0,704.7 415.9,706.5 420.8,708.2 425.6,709.8 430.4,708.7 435.3,711.9 440.1,711.7 445.0,715.2 449.9,715.9 454.7,715.6 459.6,717.4 464.4,717.8 469.2,718.0 474.1,719.1 478.9,719.2 483.8,719.5 488.6,719.7 493.5,719.5 498.3,721.1 503.2,720.5 508.1,723.8 512.9,723.1 517.8,723.8 522.6,723.5 527.5,724.3 532.3,726.2 537.1,726.3 542.0,727.6 546.8,730.2 551.7,729.5 556.5,731.2 561.4,732.0 566.2,733.3 571.1,733.9 576.0,734.1 580.8,733.6 585.6,734.1 590.5,735.0 595.3,734.3 600.2,734.3 605.0,734.8 609.9,735.4 614.8,735.5 619.6,735.8 624.5,735.7 629.3,736.8 634.1,735.9 639.0,736.0 643.8,735.3 648.7,737.0 653.5,736.1 658.4,736.5 663.2,735.8 668.1,735.5 673.0,735.9 677.8,736.2 682.6,736.5 687.5,737.4 692.3,736.0 697.2,737.0 702.0,737.4 706.9,737.9 711.8,738.4 716.6,739.3 721.4,738.9 726.3,739.5 731.1,738.9 736.0,741.0 740.9,740.4 745.7,740.4 750.5,740.3 755.4,740.7 760.2,740.1 765.1,741.4 769.9,741.5 774.8,741.2 779.6,741.5 784.5,741.5"/></g>
<polyline class="med" points="202.5,729.2 210.0,724.2 218.8,716.6 226.3,708.6 232.6,694.0 240.0,680.3 246.4,672.8 250.0,670.8 257.6,670.8 271.4,666.5 278.2,659.0 287.7,666.5 300.2,674.5 307.8,669.0 317.8,676.5 330.3,682.8 337.3,680.3 345.4,689.0 355.4,695.3 365.4,697.3 375.4,704.0 385.5,707.4 400.0,708.2 412.5,712.2 425.0,715.2 437.6,719.7 445.0,722.0 460.0,722.9 475.0,726.5 492.7,728.2 507.8,730.7 525.3,732.0 540.0,733.5 560.4,734.7 580.5,735.2 600.0,736.0 638.0,736.5 660.6,735.7 678.2,733.5 693.0,734.7 710.8,737.2 735.8,739.5 783.5,741.0"/>
<line class="v" x1="250" y1="549.5" x2="250" y2="741.5"/>
<line class="v v2" x1="297.8" y1="549.5" x2="297.8" y2="741.5" stroke-dasharray="7.2 2.07" stroke-dashoffset="3.3"/>
<line class="v v3" x1="443.9" y1="549.5" x2="443.9" y2="741.5" stroke-dasharray="4.55 1.3" stroke-dashoffset="2.5"/>
<line class="v" x1="638.1" y1="549.5" x2="638.1" y2="741.5" stroke-dasharray="18.1 1.3" stroke-dashoffset="9.5"/>
<path class="ay" d="M202.25,547.70V741.50"/>
<path class="ax" d="M195.6,548.20H202.5"/>
<path class="ax" d="M202.50,741.50v6.3"/>
<path class="ax" d="M195.6,741.50H784.5V747.80"/>
<path class="ax" d="M195.6,693.58H202.50"/>
<path class="ax" d="M195.6,645.65H202.50"/>
<path class="ax" d="M195.6,597.72H202.50"/>
<path class="ax" d="M299.50,741.50v6.3"/>
<path class="ax" d="M396.50,741.50v6.3"/>
<path class="ax" d="M493.50,741.50v6.3"/>
<path class="ax" d="M590.50,741.50v6.3"/>
<path class="ax" d="M687.50,741.50v6.3"/>
<text class="t" x="188.9" y="746.5" text-anchor="end">0</text>
<text class="t" x="188.9" y="698.6" text-anchor="end">100</text>
<text class="t" x="188.9" y="650.6" text-anchor="end">200</text>
<text class="t" x="188.9" y="602.7" text-anchor="end">300</text>
<text class="t" x="188.9" y="553.2" text-anchor="end">400</text>
<text class="t" x="202.5" y="768.7" text-anchor="middle">–1,000</text>
<text class="t" x="299.5" y="768.7" text-anchor="middle">–800</text>
<text class="t" x="396.5" y="768.7" text-anchor="middle">–600</text>
<text class="t" x="493.5" y="768.7" text-anchor="middle">–400</text>
<text class="t" x="590.5" y="768.7" text-anchor="middle">–200</text>
<text class="t" x="687.5" y="768.7" text-anchor="middle">0</text>
<text class="t" x="784.5" y="768.7" text-anchor="middle">200</text>
<text class="b" transform="translate(152.3,645.0) rotate(-90)" text-anchor="middle" style="font-size:15.85px">Volume (mL)</text>
<text class="t" x="58" y="80.4" text-anchor="middle">Airway pressure</text>
<text class="t" x="58" y="100.8" text-anchor="middle">5 cm H<tspan style="font-size:11px" dy="4.3">2</tspan><tspan dy="-4.3">O</tspan></text>
<text class="t" x="58" y="119.3" text-anchor="middle">(n = 40)</text>
<text class="t" x="58" y="350.4" text-anchor="middle">Airway pressure</text>
<text class="t" x="58" y="370.8" text-anchor="middle">15 cm H<tspan style="font-size:11px" dy="4.3">2</tspan><tspan dy="-4.3">O</tspan></text>
<text class="t" x="58" y="389.3" text-anchor="middle">(n = 20)</text>
<text class="t" x="58" y="620.4" text-anchor="middle">Airway pressure</text>
<text class="t" x="58" y="640.8" text-anchor="middle">45 cm H<tspan style="font-size:11px" dy="4.3">2</tspan><tspan dy="-4.3">O</tspan></text>
<text class="t" x="58" y="659.3" text-anchor="middle">(n = 20)</text>
<text class="b" x="430.3" y="791.7">Hounsfield Units</text>
<rect x="280" y="808.5" width="426.4" height="32.7" fill="#fff" stroke="#111" stroke-width="1.4"/>
<line x1="293.2" y1="824.8" x2="341.9" y2="824.8" stroke="#dba5ae" stroke-width="1.4"/>
<text class="t" x="349.2" y="830" font-size="16.2" style="font-size:16.2px">Individual histogram</text>
<line x1="507.5" y1="824.8" x2="556.1" y2="824.8" stroke="#b8547c" stroke-width="1.7"/>
<text class="t" x="563.7" y="830" style="font-size:16.2px">Median histogram</text>
</svg>
</body></html>
